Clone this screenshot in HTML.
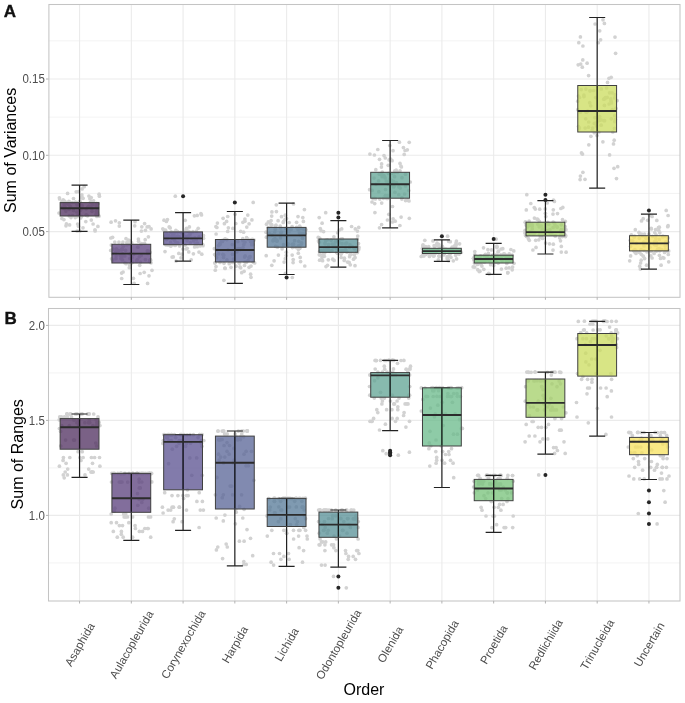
<!DOCTYPE html>
<html><head><meta charset="utf-8"><style>html,body{margin:0;padding:0;background:#fff;width:685px;height:703px;overflow:hidden}svg{display:block;will-change:transform}</style></head><body><svg width="685" height="703" viewBox="0 0 685 703" font-family="&quot;Liberation Sans&quot;, sans-serif"><line x1="48.5" x2="680.0" y1="269.75" y2="269.75" stroke="#f0f0f0" stroke-width="0.8"/><line x1="48.5" x2="680.0" y1="193.45" y2="193.45" stroke="#f0f0f0" stroke-width="0.8"/><line x1="48.5" x2="680.0" y1="117.15" y2="117.15" stroke="#f0f0f0" stroke-width="0.8"/><line x1="48.5" x2="680.0" y1="40.85" y2="40.85" stroke="#f0f0f0" stroke-width="0.8"/><line x1="48.5" x2="680.0" y1="231.60" y2="231.60" stroke="#ebebeb" stroke-width="1.1"/><line x1="48.5" x2="680.0" y1="155.30" y2="155.30" stroke="#ebebeb" stroke-width="1.1"/><line x1="48.5" x2="680.0" y1="79.00" y2="79.00" stroke="#ebebeb" stroke-width="1.1"/><line x1="79.56" x2="79.56" y1="4.5" y2="297.3" stroke="#ebebeb" stroke-width="1.1"/><line x1="131.32" x2="131.32" y1="4.5" y2="297.3" stroke="#ebebeb" stroke-width="1.1"/><line x1="183.08" x2="183.08" y1="4.5" y2="297.3" stroke="#ebebeb" stroke-width="1.1"/><line x1="234.84" x2="234.84" y1="4.5" y2="297.3" stroke="#ebebeb" stroke-width="1.1"/><line x1="286.61" x2="286.61" y1="4.5" y2="297.3" stroke="#ebebeb" stroke-width="1.1"/><line x1="338.37" x2="338.37" y1="4.5" y2="297.3" stroke="#ebebeb" stroke-width="1.1"/><line x1="390.13" x2="390.13" y1="4.5" y2="297.3" stroke="#ebebeb" stroke-width="1.1"/><line x1="441.89" x2="441.89" y1="4.5" y2="297.3" stroke="#ebebeb" stroke-width="1.1"/><line x1="493.66" x2="493.66" y1="4.5" y2="297.3" stroke="#ebebeb" stroke-width="1.1"/><line x1="545.42" x2="545.42" y1="4.5" y2="297.3" stroke="#ebebeb" stroke-width="1.1"/><line x1="597.18" x2="597.18" y1="4.5" y2="297.3" stroke="#ebebeb" stroke-width="1.1"/><line x1="648.94" x2="648.94" y1="4.5" y2="297.3" stroke="#ebebeb" stroke-width="1.1"/><g fill="#d2d2d2"><circle cx="62.4" cy="207.4" r="1.85"/><circle cx="86.2" cy="208.8" r="1.85"/><circle cx="96.5" cy="211.1" r="1.85"/><circle cx="91.2" cy="197.5" r="1.85"/><circle cx="89.9" cy="198.7" r="1.85"/><circle cx="78.6" cy="202.4" r="1.85"/><circle cx="66.2" cy="203.6" r="1.85"/><circle cx="91.5" cy="201.4" r="1.85"/><circle cx="72.6" cy="215.6" r="1.85"/><circle cx="92.0" cy="211.3" r="1.85"/><circle cx="99.1" cy="216.1" r="1.85"/><circle cx="75.2" cy="217.6" r="1.85"/><circle cx="75.5" cy="202.2" r="1.85"/><circle cx="98.1" cy="203.6" r="1.85"/><circle cx="88.9" cy="196.0" r="1.85"/><circle cx="65.9" cy="211.1" r="1.85"/><circle cx="64.1" cy="208.7" r="1.85"/><circle cx="65.1" cy="201.6" r="1.85"/><circle cx="96.3" cy="211.5" r="1.85"/><circle cx="92.2" cy="204.9" r="1.85"/><circle cx="64.9" cy="206.5" r="1.85"/><circle cx="93.1" cy="224.0" r="1.85"/><circle cx="99.4" cy="196.2" r="1.85"/><circle cx="86.1" cy="215.0" r="1.85"/><circle cx="73.4" cy="210.4" r="1.85"/><circle cx="81.6" cy="216.3" r="1.85"/><circle cx="64.3" cy="204.0" r="1.85"/><circle cx="59.4" cy="197.8" r="1.85"/><circle cx="99.1" cy="194.2" r="1.85"/><circle cx="85.8" cy="221.6" r="1.85"/><circle cx="80.7" cy="217.9" r="1.85"/><circle cx="97.5" cy="212.8" r="1.85"/><circle cx="76.8" cy="211.8" r="1.85"/><circle cx="95.0" cy="229.8" r="1.85"/><circle cx="93.1" cy="204.5" r="1.85"/><circle cx="67.6" cy="193.4" r="1.85"/><circle cx="69.3" cy="215.9" r="1.85"/><circle cx="71.0" cy="217.6" r="1.85"/><circle cx="68.8" cy="204.5" r="1.85"/><circle cx="83.1" cy="198.3" r="1.85"/><circle cx="69.6" cy="202.2" r="1.85"/><circle cx="76.2" cy="191.8" r="1.85"/><circle cx="64.3" cy="201.2" r="1.85"/><circle cx="96.5" cy="203.3" r="1.85"/><circle cx="73.5" cy="198.5" r="1.85"/><circle cx="77.8" cy="215.1" r="1.85"/><circle cx="83.0" cy="227.8" r="1.85"/><circle cx="96.3" cy="205.9" r="1.85"/><circle cx="76.3" cy="203.2" r="1.85"/><circle cx="96.9" cy="216.5" r="1.85"/><circle cx="79.6" cy="201.3" r="1.85"/><circle cx="80.9" cy="197.9" r="1.85"/><circle cx="80.5" cy="210.2" r="1.85"/><circle cx="59.6" cy="199.0" r="1.85"/><circle cx="77.1" cy="205.0" r="1.85"/><circle cx="66.4" cy="223.9" r="1.85"/><circle cx="59.0" cy="213.0" r="1.85"/><circle cx="91.9" cy="208.6" r="1.85"/><circle cx="66.0" cy="225.8" r="1.85"/><circle cx="78.5" cy="226.2" r="1.85"/><circle cx="88.9" cy="206.0" r="1.85"/><circle cx="81.9" cy="194.9" r="1.85"/><circle cx="72.4" cy="202.5" r="1.85"/><circle cx="80.3" cy="201.9" r="1.85"/><circle cx="81.9" cy="207.9" r="1.85"/><circle cx="91.3" cy="202.0" r="1.85"/><circle cx="63.2" cy="199.8" r="1.85"/><circle cx="82.1" cy="188.9" r="1.85"/><circle cx="69.1" cy="209.4" r="1.85"/><circle cx="70.3" cy="206.3" r="1.85"/><circle cx="90.8" cy="207.5" r="1.85"/><circle cx="79.9" cy="231.1" r="1.85"/><circle cx="82.1" cy="205.5" r="1.85"/><circle cx="90.3" cy="202.3" r="1.85"/><circle cx="96.6" cy="206.7" r="1.85"/><circle cx="77.2" cy="216.6" r="1.85"/><circle cx="84.2" cy="186.7" r="1.85"/><circle cx="79.8" cy="209.3" r="1.85"/><circle cx="80.1" cy="208.4" r="1.85"/><circle cx="87.5" cy="215.8" r="1.85"/><circle cx="77.6" cy="224.0" r="1.85"/><circle cx="80.9" cy="206.1" r="1.85"/><circle cx="78.6" cy="191.7" r="1.85"/><circle cx="97.8" cy="214.3" r="1.85"/><circle cx="87.8" cy="207.0" r="1.85"/><circle cx="95.1" cy="230.9" r="1.85"/><circle cx="97.9" cy="226.4" r="1.85"/><circle cx="69.6" cy="224.9" r="1.85"/><circle cx="82.0" cy="197.3" r="1.85"/><circle cx="97.9" cy="208.0" r="1.85"/><circle cx="93.6" cy="200.8" r="1.85"/><circle cx="64.5" cy="204.3" r="1.85"/><circle cx="63.9" cy="219.6" r="1.85"/><circle cx="77.2" cy="231.0" r="1.85"/><circle cx="61.9" cy="218.5" r="1.85"/><circle cx="68.8" cy="201.4" r="1.85"/><circle cx="61.9" cy="201.6" r="1.85"/><circle cx="86.6" cy="215.2" r="1.85"/><circle cx="91.3" cy="220.1" r="1.85"/><circle cx="96.0" cy="214.4" r="1.85"/><circle cx="141.4" cy="231.1" r="1.85"/><circle cx="123.2" cy="254.9" r="1.85"/><circle cx="134.1" cy="283.3" r="1.85"/><circle cx="111.1" cy="222.2" r="1.85"/><circle cx="113.1" cy="249.1" r="1.85"/><circle cx="121.7" cy="278.5" r="1.85"/><circle cx="138.4" cy="239.0" r="1.85"/><circle cx="139.3" cy="256.8" r="1.85"/><circle cx="138.6" cy="241.2" r="1.85"/><circle cx="122.7" cy="253.8" r="1.85"/><circle cx="132.0" cy="257.7" r="1.85"/><circle cx="129.9" cy="241.0" r="1.85"/><circle cx="129.9" cy="258.4" r="1.85"/><circle cx="115.5" cy="220.8" r="1.85"/><circle cx="147.6" cy="283.4" r="1.85"/><circle cx="118.9" cy="242.1" r="1.85"/><circle cx="151.1" cy="228.9" r="1.85"/><circle cx="149.4" cy="252.4" r="1.85"/><circle cx="111.3" cy="245.1" r="1.85"/><circle cx="129.6" cy="264.9" r="1.85"/><circle cx="144.6" cy="223.6" r="1.85"/><circle cx="150.7" cy="260.2" r="1.85"/><circle cx="129.2" cy="244.2" r="1.85"/><circle cx="121.7" cy="257.6" r="1.85"/><circle cx="119.3" cy="222.8" r="1.85"/><circle cx="149.8" cy="261.1" r="1.85"/><circle cx="119.3" cy="226.1" r="1.85"/><circle cx="134.7" cy="225.8" r="1.85"/><circle cx="116.5" cy="250.4" r="1.85"/><circle cx="132.3" cy="262.3" r="1.85"/><circle cx="150.1" cy="252.4" r="1.85"/><circle cx="116.1" cy="255.8" r="1.85"/><circle cx="144.6" cy="243.4" r="1.85"/><circle cx="131.7" cy="242.9" r="1.85"/><circle cx="147.3" cy="250.8" r="1.85"/><circle cx="139.7" cy="265.3" r="1.85"/><circle cx="120.2" cy="255.3" r="1.85"/><circle cx="147.8" cy="253.4" r="1.85"/><circle cx="130.7" cy="253.5" r="1.85"/><circle cx="111.6" cy="258.8" r="1.85"/><circle cx="110.8" cy="238.0" r="1.85"/><circle cx="131.0" cy="263.4" r="1.85"/><circle cx="129.3" cy="267.7" r="1.85"/><circle cx="123.1" cy="245.8" r="1.85"/><circle cx="116.4" cy="248.9" r="1.85"/><circle cx="124.9" cy="262.8" r="1.85"/><circle cx="123.7" cy="245.9" r="1.85"/><circle cx="145.4" cy="259.6" r="1.85"/><circle cx="110.7" cy="250.4" r="1.85"/><circle cx="141.7" cy="243.7" r="1.85"/><circle cx="145.4" cy="230.3" r="1.85"/><circle cx="115.6" cy="252.1" r="1.85"/><circle cx="149.0" cy="226.6" r="1.85"/><circle cx="140.1" cy="273.5" r="1.85"/><circle cx="147.9" cy="251.3" r="1.85"/><circle cx="122.6" cy="249.3" r="1.85"/><circle cx="126.0" cy="238.7" r="1.85"/><circle cx="126.9" cy="244.7" r="1.85"/><circle cx="152.0" cy="270.3" r="1.85"/><circle cx="135.0" cy="221.7" r="1.85"/><circle cx="125.6" cy="250.3" r="1.85"/><circle cx="128.3" cy="240.0" r="1.85"/><circle cx="122.0" cy="248.9" r="1.85"/><circle cx="112.6" cy="237.3" r="1.85"/><circle cx="114.8" cy="242.1" r="1.85"/><circle cx="145.2" cy="239.7" r="1.85"/><circle cx="122.4" cy="244.3" r="1.85"/><circle cx="149.4" cy="251.4" r="1.85"/><circle cx="120.9" cy="258.6" r="1.85"/><circle cx="121.6" cy="273.1" r="1.85"/><circle cx="131.8" cy="261.9" r="1.85"/><circle cx="118.5" cy="250.6" r="1.85"/><circle cx="126.1" cy="263.7" r="1.85"/><circle cx="150.2" cy="259.6" r="1.85"/><circle cx="147.2" cy="226.9" r="1.85"/><circle cx="144.2" cy="272.3" r="1.85"/><circle cx="136.7" cy="261.2" r="1.85"/><circle cx="148.4" cy="236.8" r="1.85"/><circle cx="149.6" cy="261.4" r="1.85"/><circle cx="133.4" cy="278.3" r="1.85"/><circle cx="140.4" cy="262.0" r="1.85"/><circle cx="112.7" cy="260.1" r="1.85"/><circle cx="140.9" cy="244.3" r="1.85"/><circle cx="129.3" cy="240.5" r="1.85"/><circle cx="141.8" cy="226.8" r="1.85"/><circle cx="137.3" cy="259.5" r="1.85"/><circle cx="122.5" cy="260.0" r="1.85"/><circle cx="112.6" cy="253.6" r="1.85"/><circle cx="149.0" cy="275.8" r="1.85"/><circle cx="115.9" cy="258.6" r="1.85"/><circle cx="130.2" cy="254.2" r="1.85"/><circle cx="124.8" cy="256.0" r="1.85"/><circle cx="122.9" cy="242.1" r="1.85"/><circle cx="141.2" cy="255.5" r="1.85"/><circle cx="151.0" cy="262.8" r="1.85"/><circle cx="121.4" cy="250.0" r="1.85"/><circle cx="137.8" cy="247.2" r="1.85"/><circle cx="123.1" cy="272.0" r="1.85"/><circle cx="133.7" cy="254.3" r="1.85"/><circle cx="126.9" cy="242.3" r="1.85"/><circle cx="196.4" cy="231.2" r="1.85"/><circle cx="194.4" cy="215.8" r="1.85"/><circle cx="187.5" cy="237.0" r="1.85"/><circle cx="176.0" cy="261.0" r="1.85"/><circle cx="175.6" cy="237.5" r="1.85"/><circle cx="177.4" cy="231.6" r="1.85"/><circle cx="194.8" cy="237.8" r="1.85"/><circle cx="165.6" cy="230.2" r="1.85"/><circle cx="170.5" cy="244.0" r="1.85"/><circle cx="193.6" cy="241.0" r="1.85"/><circle cx="172.6" cy="235.0" r="1.85"/><circle cx="165.1" cy="236.2" r="1.85"/><circle cx="163.8" cy="230.0" r="1.85"/><circle cx="185.3" cy="245.1" r="1.85"/><circle cx="175.9" cy="242.4" r="1.85"/><circle cx="203.0" cy="245.7" r="1.85"/><circle cx="199.0" cy="236.8" r="1.85"/><circle cx="203.3" cy="235.5" r="1.85"/><circle cx="173.3" cy="256.9" r="1.85"/><circle cx="165.9" cy="244.7" r="1.85"/><circle cx="166.4" cy="221.5" r="1.85"/><circle cx="183.0" cy="249.0" r="1.85"/><circle cx="191.8" cy="238.4" r="1.85"/><circle cx="180.9" cy="232.4" r="1.85"/><circle cx="172.1" cy="257.1" r="1.85"/><circle cx="179.6" cy="246.0" r="1.85"/><circle cx="188.1" cy="231.2" r="1.85"/><circle cx="190.3" cy="242.7" r="1.85"/><circle cx="193.4" cy="253.8" r="1.85"/><circle cx="197.5" cy="243.2" r="1.85"/><circle cx="189.9" cy="234.8" r="1.85"/><circle cx="167.4" cy="219.6" r="1.85"/><circle cx="197.2" cy="215.4" r="1.85"/><circle cx="174.5" cy="240.3" r="1.85"/><circle cx="185.9" cy="230.3" r="1.85"/><circle cx="177.8" cy="242.8" r="1.85"/><circle cx="192.9" cy="231.7" r="1.85"/><circle cx="170.6" cy="242.1" r="1.85"/><circle cx="172.6" cy="236.9" r="1.85"/><circle cx="172.5" cy="238.5" r="1.85"/><circle cx="168.7" cy="235.4" r="1.85"/><circle cx="199.0" cy="252.1" r="1.85"/><circle cx="186.3" cy="249.0" r="1.85"/><circle cx="175.9" cy="230.3" r="1.85"/><circle cx="178.8" cy="253.4" r="1.85"/><circle cx="203.5" cy="238.3" r="1.85"/><circle cx="183.4" cy="234.0" r="1.85"/><circle cx="172.0" cy="236.7" r="1.85"/><circle cx="195.9" cy="244.2" r="1.85"/><circle cx="189.4" cy="231.9" r="1.85"/><circle cx="203.4" cy="235.7" r="1.85"/><circle cx="166.6" cy="239.6" r="1.85"/><circle cx="182.0" cy="254.2" r="1.85"/><circle cx="196.3" cy="239.7" r="1.85"/><circle cx="197.2" cy="246.7" r="1.85"/><circle cx="200.2" cy="245.9" r="1.85"/><circle cx="164.0" cy="220.2" r="1.85"/><circle cx="174.5" cy="232.2" r="1.85"/><circle cx="167.3" cy="237.2" r="1.85"/><circle cx="170.2" cy="227.9" r="1.85"/><circle cx="202.7" cy="244.4" r="1.85"/><circle cx="186.5" cy="228.3" r="1.85"/><circle cx="200.9" cy="213.6" r="1.85"/><circle cx="177.8" cy="231.8" r="1.85"/><circle cx="198.2" cy="228.3" r="1.85"/><circle cx="181.0" cy="257.8" r="1.85"/><circle cx="173.1" cy="244.7" r="1.85"/><circle cx="194.6" cy="246.9" r="1.85"/><circle cx="201.5" cy="214.9" r="1.85"/><circle cx="166.8" cy="238.6" r="1.85"/><circle cx="187.1" cy="240.8" r="1.85"/><circle cx="188.0" cy="236.2" r="1.85"/><circle cx="171.4" cy="231.9" r="1.85"/><circle cx="177.6" cy="236.1" r="1.85"/><circle cx="168.2" cy="245.1" r="1.85"/><circle cx="170.8" cy="245.7" r="1.85"/><circle cx="172.9" cy="233.1" r="1.85"/><circle cx="187.2" cy="248.3" r="1.85"/><circle cx="189.4" cy="226.9" r="1.85"/><circle cx="170.8" cy="232.4" r="1.85"/><circle cx="162.8" cy="228.8" r="1.85"/><circle cx="175.9" cy="244.7" r="1.85"/><circle cx="190.5" cy="233.1" r="1.85"/><circle cx="170.0" cy="244.8" r="1.85"/><circle cx="175.3" cy="231.8" r="1.85"/><circle cx="170.8" cy="246.1" r="1.85"/><circle cx="195.3" cy="244.1" r="1.85"/><circle cx="185.1" cy="236.6" r="1.85"/><circle cx="165.0" cy="251.6" r="1.85"/><circle cx="166.6" cy="233.7" r="1.85"/><circle cx="178.7" cy="236.6" r="1.85"/><circle cx="185.2" cy="220.3" r="1.85"/><circle cx="188.8" cy="251.9" r="1.85"/><circle cx="166.2" cy="244.7" r="1.85"/><circle cx="169.2" cy="226.9" r="1.85"/><circle cx="191.2" cy="259.8" r="1.85"/><circle cx="179.3" cy="236.8" r="1.85"/><circle cx="174.1" cy="235.2" r="1.85"/><circle cx="175.1" cy="245.5" r="1.85"/><circle cx="201.8" cy="254.2" r="1.85"/><circle cx="175.3" cy="196.2" r="1.85"/><circle cx="232.5" cy="254.3" r="1.85"/><circle cx="252.9" cy="240.9" r="1.85"/><circle cx="244.5" cy="265.5" r="1.85"/><circle cx="224.4" cy="223.7" r="1.85"/><circle cx="251.6" cy="239.5" r="1.85"/><circle cx="216.0" cy="266.6" r="1.85"/><circle cx="236.1" cy="266.2" r="1.85"/><circle cx="231.0" cy="267.3" r="1.85"/><circle cx="224.0" cy="239.5" r="1.85"/><circle cx="216.6" cy="257.7" r="1.85"/><circle cx="246.4" cy="262.3" r="1.85"/><circle cx="214.7" cy="254.5" r="1.85"/><circle cx="237.0" cy="251.8" r="1.85"/><circle cx="253.1" cy="244.5" r="1.85"/><circle cx="220.0" cy="262.4" r="1.85"/><circle cx="222.4" cy="241.5" r="1.85"/><circle cx="239.3" cy="263.2" r="1.85"/><circle cx="235.1" cy="214.3" r="1.85"/><circle cx="240.7" cy="267.8" r="1.85"/><circle cx="247.8" cy="215.1" r="1.85"/><circle cx="221.4" cy="240.5" r="1.85"/><circle cx="227.0" cy="259.9" r="1.85"/><circle cx="226.6" cy="221.4" r="1.85"/><circle cx="216.1" cy="234.0" r="1.85"/><circle cx="251.0" cy="277.3" r="1.85"/><circle cx="246.6" cy="237.7" r="1.85"/><circle cx="243.8" cy="244.6" r="1.85"/><circle cx="214.4" cy="248.7" r="1.85"/><circle cx="249.1" cy="223.8" r="1.85"/><circle cx="245.0" cy="262.1" r="1.85"/><circle cx="233.4" cy="259.1" r="1.85"/><circle cx="244.9" cy="219.1" r="1.85"/><circle cx="232.9" cy="228.4" r="1.85"/><circle cx="223.5" cy="257.5" r="1.85"/><circle cx="218.5" cy="245.6" r="1.85"/><circle cx="223.8" cy="255.1" r="1.85"/><circle cx="215.7" cy="255.4" r="1.85"/><circle cx="228.0" cy="249.8" r="1.85"/><circle cx="245.2" cy="255.9" r="1.85"/><circle cx="242.9" cy="222.3" r="1.85"/><circle cx="249.1" cy="267.3" r="1.85"/><circle cx="243.6" cy="232.2" r="1.85"/><circle cx="225.2" cy="238.8" r="1.85"/><circle cx="237.1" cy="249.0" r="1.85"/><circle cx="232.2" cy="244.6" r="1.85"/><circle cx="246.8" cy="227.1" r="1.85"/><circle cx="235.8" cy="223.5" r="1.85"/><circle cx="225.1" cy="268.4" r="1.85"/><circle cx="240.7" cy="231.3" r="1.85"/><circle cx="254.1" cy="240.0" r="1.85"/><circle cx="223.1" cy="218.3" r="1.85"/><circle cx="250.6" cy="274.2" r="1.85"/><circle cx="214.8" cy="263.1" r="1.85"/><circle cx="224.9" cy="268.0" r="1.85"/><circle cx="223.9" cy="280.3" r="1.85"/><circle cx="244.9" cy="221.2" r="1.85"/><circle cx="253.3" cy="262.2" r="1.85"/><circle cx="245.0" cy="242.1" r="1.85"/><circle cx="227.7" cy="216.5" r="1.85"/><circle cx="250.6" cy="241.4" r="1.85"/><circle cx="227.7" cy="231.4" r="1.85"/><circle cx="224.0" cy="263.3" r="1.85"/><circle cx="251.7" cy="244.7" r="1.85"/><circle cx="240.3" cy="249.6" r="1.85"/><circle cx="242.8" cy="238.5" r="1.85"/><circle cx="241.7" cy="272.7" r="1.85"/><circle cx="254.7" cy="262.9" r="1.85"/><circle cx="233.6" cy="262.4" r="1.85"/><circle cx="248.9" cy="257.6" r="1.85"/><circle cx="243.0" cy="240.8" r="1.85"/><circle cx="249.6" cy="257.0" r="1.85"/><circle cx="232.2" cy="262.4" r="1.85"/><circle cx="244.1" cy="271.3" r="1.85"/><circle cx="237.8" cy="241.6" r="1.85"/><circle cx="226.9" cy="239.6" r="1.85"/><circle cx="222.9" cy="254.3" r="1.85"/><circle cx="239.9" cy="266.9" r="1.85"/><circle cx="217.4" cy="223.1" r="1.85"/><circle cx="251.9" cy="219.9" r="1.85"/><circle cx="220.1" cy="243.3" r="1.85"/><circle cx="215.3" cy="270.2" r="1.85"/><circle cx="218.6" cy="253.8" r="1.85"/><circle cx="252.6" cy="239.4" r="1.85"/><circle cx="228.4" cy="227.8" r="1.85"/><circle cx="220.0" cy="244.6" r="1.85"/><circle cx="215.3" cy="262.6" r="1.85"/><circle cx="215.9" cy="226.5" r="1.85"/><circle cx="242.8" cy="239.5" r="1.85"/><circle cx="240.4" cy="248.9" r="1.85"/><circle cx="243.0" cy="247.6" r="1.85"/><circle cx="244.6" cy="257.1" r="1.85"/><circle cx="216.9" cy="227.5" r="1.85"/><circle cx="238.6" cy="248.6" r="1.85"/><circle cx="229.2" cy="263.7" r="1.85"/><circle cx="248.0" cy="239.1" r="1.85"/><circle cx="248.1" cy="260.5" r="1.85"/><circle cx="251.0" cy="266.1" r="1.85"/><circle cx="216.9" cy="249.9" r="1.85"/><circle cx="250.1" cy="256.7" r="1.85"/><circle cx="252.0" cy="243.2" r="1.85"/><circle cx="253.2" cy="202.4" r="1.85"/><circle cx="275.2" cy="226.0" r="1.85"/><circle cx="296.6" cy="227.3" r="1.85"/><circle cx="304.8" cy="266.0" r="1.85"/><circle cx="287.7" cy="245.1" r="1.85"/><circle cx="275.0" cy="238.7" r="1.85"/><circle cx="299.1" cy="227.0" r="1.85"/><circle cx="282.1" cy="248.8" r="1.85"/><circle cx="274.7" cy="232.0" r="1.85"/><circle cx="271.3" cy="225.3" r="1.85"/><circle cx="298.1" cy="229.6" r="1.85"/><circle cx="299.4" cy="232.8" r="1.85"/><circle cx="292.2" cy="255.1" r="1.85"/><circle cx="285.3" cy="258.7" r="1.85"/><circle cx="289.2" cy="222.5" r="1.85"/><circle cx="275.3" cy="229.2" r="1.85"/><circle cx="305.8" cy="229.7" r="1.85"/><circle cx="280.5" cy="237.9" r="1.85"/><circle cx="292.4" cy="247.6" r="1.85"/><circle cx="299.8" cy="248.3" r="1.85"/><circle cx="299.7" cy="226.0" r="1.85"/><circle cx="285.3" cy="273.4" r="1.85"/><circle cx="278.1" cy="220.7" r="1.85"/><circle cx="288.6" cy="229.0" r="1.85"/><circle cx="271.1" cy="220.6" r="1.85"/><circle cx="300.4" cy="228.7" r="1.85"/><circle cx="280.6" cy="227.8" r="1.85"/><circle cx="301.1" cy="233.6" r="1.85"/><circle cx="277.0" cy="241.2" r="1.85"/><circle cx="281.5" cy="216.7" r="1.85"/><circle cx="276.4" cy="211.6" r="1.85"/><circle cx="283.5" cy="244.7" r="1.85"/><circle cx="273.6" cy="239.5" r="1.85"/><circle cx="266.0" cy="232.2" r="1.85"/><circle cx="295.8" cy="247.5" r="1.85"/><circle cx="277.5" cy="247.2" r="1.85"/><circle cx="276.0" cy="225.2" r="1.85"/><circle cx="278.4" cy="255.1" r="1.85"/><circle cx="285.8" cy="228.3" r="1.85"/><circle cx="283.6" cy="221.4" r="1.85"/><circle cx="292.3" cy="244.3" r="1.85"/><circle cx="293.2" cy="259.6" r="1.85"/><circle cx="280.9" cy="232.7" r="1.85"/><circle cx="304.4" cy="209.6" r="1.85"/><circle cx="301.3" cy="244.1" r="1.85"/><circle cx="268.3" cy="221.9" r="1.85"/><circle cx="300.2" cy="257.4" r="1.85"/><circle cx="303.4" cy="221.4" r="1.85"/><circle cx="298.4" cy="249.3" r="1.85"/><circle cx="271.7" cy="224.6" r="1.85"/><circle cx="300.3" cy="245.3" r="1.85"/><circle cx="292.1" cy="226.5" r="1.85"/><circle cx="266.5" cy="224.2" r="1.85"/><circle cx="266.4" cy="237.2" r="1.85"/><circle cx="305.3" cy="233.8" r="1.85"/><circle cx="293.1" cy="262.6" r="1.85"/><circle cx="276.3" cy="204.8" r="1.85"/><circle cx="270.1" cy="223.1" r="1.85"/><circle cx="271.8" cy="265.3" r="1.85"/><circle cx="275.6" cy="240.5" r="1.85"/><circle cx="298.0" cy="216.6" r="1.85"/><circle cx="280.2" cy="226.0" r="1.85"/><circle cx="272.2" cy="235.0" r="1.85"/><circle cx="303.3" cy="229.1" r="1.85"/><circle cx="298.7" cy="241.3" r="1.85"/><circle cx="272.9" cy="240.8" r="1.85"/><circle cx="302.8" cy="217.6" r="1.85"/><circle cx="291.1" cy="229.4" r="1.85"/><circle cx="298.3" cy="253.2" r="1.85"/><circle cx="293.6" cy="244.2" r="1.85"/><circle cx="302.9" cy="233.5" r="1.85"/><circle cx="298.5" cy="245.8" r="1.85"/><circle cx="300.6" cy="261.6" r="1.85"/><circle cx="274.1" cy="260.8" r="1.85"/><circle cx="294.6" cy="240.7" r="1.85"/><circle cx="287.9" cy="230.3" r="1.85"/><circle cx="296.6" cy="222.3" r="1.85"/><circle cx="284.1" cy="262.1" r="1.85"/><circle cx="302.5" cy="238.3" r="1.85"/><circle cx="288.9" cy="231.7" r="1.85"/><circle cx="276.9" cy="240.2" r="1.85"/><circle cx="275.6" cy="246.4" r="1.85"/><circle cx="271.7" cy="216.1" r="1.85"/><circle cx="286.3" cy="252.2" r="1.85"/><circle cx="268.3" cy="227.6" r="1.85"/><circle cx="285.2" cy="219.3" r="1.85"/><circle cx="271.9" cy="211.9" r="1.85"/><circle cx="286.2" cy="255.6" r="1.85"/><circle cx="286.5" cy="218.5" r="1.85"/><circle cx="288.2" cy="243.8" r="1.85"/><circle cx="301.6" cy="242.9" r="1.85"/><circle cx="266.2" cy="255.7" r="1.85"/><circle cx="300.7" cy="227.8" r="1.85"/><circle cx="285.3" cy="215.2" r="1.85"/><circle cx="289.2" cy="229.3" r="1.85"/><circle cx="293.5" cy="203.9" r="1.85"/><circle cx="300.7" cy="234.9" r="1.85"/><circle cx="281.4" cy="232.1" r="1.85"/><circle cx="283.2" cy="222.4" r="1.85"/><circle cx="305.7" cy="229.8" r="1.85"/><circle cx="269.0" cy="233.2" r="1.85"/><circle cx="292.3" cy="277.5" r="1.85"/><circle cx="336.7" cy="247.2" r="1.85"/><circle cx="321.3" cy="250.6" r="1.85"/><circle cx="351.1" cy="254.3" r="1.85"/><circle cx="349.6" cy="256.7" r="1.85"/><circle cx="327.3" cy="239.8" r="1.85"/><circle cx="341.7" cy="228.9" r="1.85"/><circle cx="354.8" cy="248.9" r="1.85"/><circle cx="354.3" cy="254.7" r="1.85"/><circle cx="339.3" cy="242.8" r="1.85"/><circle cx="337.4" cy="253.2" r="1.85"/><circle cx="342.1" cy="243.7" r="1.85"/><circle cx="325.5" cy="251.4" r="1.85"/><circle cx="325.6" cy="240.4" r="1.85"/><circle cx="325.1" cy="243.0" r="1.85"/><circle cx="346.7" cy="243.0" r="1.85"/><circle cx="332.7" cy="259.2" r="1.85"/><circle cx="341.0" cy="254.3" r="1.85"/><circle cx="334.3" cy="244.7" r="1.85"/><circle cx="339.1" cy="250.4" r="1.85"/><circle cx="323.8" cy="252.3" r="1.85"/><circle cx="319.5" cy="251.7" r="1.85"/><circle cx="359.0" cy="247.4" r="1.85"/><circle cx="333.2" cy="247.0" r="1.85"/><circle cx="322.1" cy="223.2" r="1.85"/><circle cx="343.9" cy="250.5" r="1.85"/><circle cx="350.3" cy="264.8" r="1.85"/><circle cx="324.1" cy="250.3" r="1.85"/><circle cx="342.4" cy="250.7" r="1.85"/><circle cx="331.9" cy="250.6" r="1.85"/><circle cx="339.2" cy="230.2" r="1.85"/><circle cx="318.5" cy="240.9" r="1.85"/><circle cx="319.1" cy="238.2" r="1.85"/><circle cx="358.7" cy="227.4" r="1.85"/><circle cx="353.5" cy="259.2" r="1.85"/><circle cx="337.8" cy="240.4" r="1.85"/><circle cx="341.2" cy="257.5" r="1.85"/><circle cx="328.5" cy="244.7" r="1.85"/><circle cx="349.9" cy="244.5" r="1.85"/><circle cx="335.3" cy="241.9" r="1.85"/><circle cx="356.9" cy="252.4" r="1.85"/><circle cx="349.4" cy="247.3" r="1.85"/><circle cx="351.6" cy="226.5" r="1.85"/><circle cx="357.6" cy="251.9" r="1.85"/><circle cx="328.2" cy="247.0" r="1.85"/><circle cx="319.2" cy="242.3" r="1.85"/><circle cx="326.0" cy="266.6" r="1.85"/><circle cx="325.1" cy="243.8" r="1.85"/><circle cx="321.1" cy="230.7" r="1.85"/><circle cx="319.8" cy="238.4" r="1.85"/><circle cx="340.7" cy="239.0" r="1.85"/><circle cx="353.7" cy="247.7" r="1.85"/><circle cx="336.6" cy="252.5" r="1.85"/><circle cx="356.9" cy="252.7" r="1.85"/><circle cx="355.3" cy="228.9" r="1.85"/><circle cx="320.3" cy="228.5" r="1.85"/><circle cx="342.4" cy="238.9" r="1.85"/><circle cx="334.1" cy="260.4" r="1.85"/><circle cx="322.6" cy="260.7" r="1.85"/><circle cx="357.4" cy="231.1" r="1.85"/><circle cx="328.3" cy="249.5" r="1.85"/><circle cx="341.0" cy="253.6" r="1.85"/><circle cx="344.2" cy="260.4" r="1.85"/><circle cx="357.3" cy="239.0" r="1.85"/><circle cx="345.4" cy="251.4" r="1.85"/><circle cx="333.9" cy="236.8" r="1.85"/><circle cx="336.2" cy="248.0" r="1.85"/><circle cx="324.3" cy="256.3" r="1.85"/><circle cx="357.7" cy="236.0" r="1.85"/><circle cx="358.7" cy="249.4" r="1.85"/><circle cx="326.8" cy="247.9" r="1.85"/><circle cx="319.3" cy="254.7" r="1.85"/><circle cx="328.3" cy="250.4" r="1.85"/><circle cx="332.2" cy="244.0" r="1.85"/><circle cx="355.0" cy="265.7" r="1.85"/><circle cx="355.1" cy="257.6" r="1.85"/><circle cx="352.3" cy="246.6" r="1.85"/><circle cx="319.6" cy="260.2" r="1.85"/><circle cx="350.2" cy="254.3" r="1.85"/><circle cx="347.0" cy="252.2" r="1.85"/><circle cx="344.4" cy="258.2" r="1.85"/><circle cx="358.5" cy="243.6" r="1.85"/><circle cx="320.0" cy="254.9" r="1.85"/><circle cx="323.7" cy="250.2" r="1.85"/><circle cx="348.9" cy="262.4" r="1.85"/><circle cx="356.6" cy="247.1" r="1.85"/><circle cx="345.7" cy="243.7" r="1.85"/><circle cx="330.0" cy="251.3" r="1.85"/><circle cx="342.2" cy="252.3" r="1.85"/><circle cx="349.0" cy="262.5" r="1.85"/><circle cx="322.0" cy="257.7" r="1.85"/><circle cx="331.1" cy="240.2" r="1.85"/><circle cx="328.3" cy="259.8" r="1.85"/><circle cx="322.8" cy="254.5" r="1.85"/><circle cx="337.6" cy="232.7" r="1.85"/><circle cx="324.6" cy="253.1" r="1.85"/><circle cx="327.5" cy="265.3" r="1.85"/><circle cx="323.6" cy="231.6" r="1.85"/><circle cx="345.7" cy="249.5" r="1.85"/><circle cx="318.2" cy="237.4" r="1.85"/><circle cx="347.4" cy="262.0" r="1.85"/><circle cx="325.7" cy="212.7" r="1.85"/><circle cx="319.2" cy="217.6" r="1.85"/><circle cx="407.7" cy="200.2" r="1.85"/><circle cx="395.2" cy="221.2" r="1.85"/><circle cx="379.8" cy="199.1" r="1.85"/><circle cx="391.0" cy="183.0" r="1.85"/><circle cx="387.4" cy="220.0" r="1.85"/><circle cx="408.8" cy="190.5" r="1.85"/><circle cx="381.3" cy="174.4" r="1.85"/><circle cx="382.1" cy="176.7" r="1.85"/><circle cx="396.2" cy="170.2" r="1.85"/><circle cx="374.4" cy="155.0" r="1.85"/><circle cx="394.0" cy="186.2" r="1.85"/><circle cx="409.0" cy="200.9" r="1.85"/><circle cx="390.7" cy="182.3" r="1.85"/><circle cx="380.5" cy="174.2" r="1.85"/><circle cx="388.7" cy="182.2" r="1.85"/><circle cx="391.5" cy="180.4" r="1.85"/><circle cx="375.6" cy="198.8" r="1.85"/><circle cx="374.6" cy="198.4" r="1.85"/><circle cx="374.9" cy="212.6" r="1.85"/><circle cx="381.6" cy="163.9" r="1.85"/><circle cx="386.3" cy="181.1" r="1.85"/><circle cx="381.4" cy="167.1" r="1.85"/><circle cx="379.5" cy="227.8" r="1.85"/><circle cx="373.1" cy="198.7" r="1.85"/><circle cx="392.0" cy="173.5" r="1.85"/><circle cx="404.2" cy="154.4" r="1.85"/><circle cx="394.7" cy="172.6" r="1.85"/><circle cx="393.0" cy="150.7" r="1.85"/><circle cx="396.4" cy="182.5" r="1.85"/><circle cx="377.8" cy="149.5" r="1.85"/><circle cx="398.8" cy="186.8" r="1.85"/><circle cx="388.5" cy="173.3" r="1.85"/><circle cx="392.1" cy="160.7" r="1.85"/><circle cx="394.8" cy="170.8" r="1.85"/><circle cx="388.8" cy="214.3" r="1.85"/><circle cx="382.3" cy="172.0" r="1.85"/><circle cx="379.5" cy="159.3" r="1.85"/><circle cx="378.6" cy="180.9" r="1.85"/><circle cx="390.6" cy="159.1" r="1.85"/><circle cx="385.3" cy="195.6" r="1.85"/><circle cx="393.7" cy="187.0" r="1.85"/><circle cx="369.9" cy="154.1" r="1.85"/><circle cx="384.0" cy="175.6" r="1.85"/><circle cx="405.1" cy="150.5" r="1.85"/><circle cx="379.3" cy="174.2" r="1.85"/><circle cx="392.5" cy="206.5" r="1.85"/><circle cx="389.8" cy="145.5" r="1.85"/><circle cx="381.2" cy="173.8" r="1.85"/><circle cx="410.3" cy="182.0" r="1.85"/><circle cx="381.7" cy="203.1" r="1.85"/><circle cx="401.4" cy="167.0" r="1.85"/><circle cx="376.0" cy="184.3" r="1.85"/><circle cx="372.2" cy="190.4" r="1.85"/><circle cx="405.5" cy="185.9" r="1.85"/><circle cx="387.6" cy="195.6" r="1.85"/><circle cx="372.0" cy="202.0" r="1.85"/><circle cx="385.5" cy="189.5" r="1.85"/><circle cx="387.6" cy="198.4" r="1.85"/><circle cx="399.9" cy="225.5" r="1.85"/><circle cx="374.0" cy="178.1" r="1.85"/><circle cx="378.8" cy="191.7" r="1.85"/><circle cx="409.2" cy="142.3" r="1.85"/><circle cx="400.0" cy="170.8" r="1.85"/><circle cx="375.8" cy="169.7" r="1.85"/><circle cx="383.4" cy="198.3" r="1.85"/><circle cx="384.0" cy="155.6" r="1.85"/><circle cx="397.4" cy="172.3" r="1.85"/><circle cx="394.9" cy="192.3" r="1.85"/><circle cx="404.6" cy="194.0" r="1.85"/><circle cx="403.4" cy="147.6" r="1.85"/><circle cx="390.9" cy="184.8" r="1.85"/><circle cx="400.0" cy="163.4" r="1.85"/><circle cx="400.2" cy="188.1" r="1.85"/><circle cx="400.9" cy="166.0" r="1.85"/><circle cx="389.1" cy="159.9" r="1.85"/><circle cx="401.9" cy="199.1" r="1.85"/><circle cx="398.8" cy="194.7" r="1.85"/><circle cx="407.3" cy="149.8" r="1.85"/><circle cx="374.7" cy="203.6" r="1.85"/><circle cx="405.5" cy="174.2" r="1.85"/><circle cx="369.6" cy="189.7" r="1.85"/><circle cx="401.1" cy="217.1" r="1.85"/><circle cx="393.7" cy="181.3" r="1.85"/><circle cx="390.0" cy="179.0" r="1.85"/><circle cx="409.3" cy="218.3" r="1.85"/><circle cx="393.1" cy="218.8" r="1.85"/><circle cx="386.7" cy="198.4" r="1.85"/><circle cx="401.9" cy="197.6" r="1.85"/><circle cx="405.6" cy="200.6" r="1.85"/><circle cx="394.6" cy="176.7" r="1.85"/><circle cx="385.1" cy="177.9" r="1.85"/><circle cx="388.2" cy="165.3" r="1.85"/><circle cx="388.4" cy="184.5" r="1.85"/><circle cx="399.4" cy="142.2" r="1.85"/><circle cx="381.6" cy="224.6" r="1.85"/><circle cx="385.6" cy="195.5" r="1.85"/><circle cx="392.4" cy="222.0" r="1.85"/><circle cx="385.3" cy="158.0" r="1.85"/><circle cx="382.8" cy="176.1" r="1.85"/><circle cx="402.0" cy="177.7" r="1.85"/><circle cx="434.1" cy="255.7" r="1.85"/><circle cx="437.3" cy="250.6" r="1.85"/><circle cx="424.8" cy="250.7" r="1.85"/><circle cx="428.5" cy="252.5" r="1.85"/><circle cx="456.4" cy="241.1" r="1.85"/><circle cx="434.5" cy="248.7" r="1.85"/><circle cx="448.6" cy="260.7" r="1.85"/><circle cx="425.7" cy="246.5" r="1.85"/><circle cx="444.5" cy="253.5" r="1.85"/><circle cx="436.2" cy="245.3" r="1.85"/><circle cx="441.9" cy="248.5" r="1.85"/><circle cx="433.5" cy="256.1" r="1.85"/><circle cx="423.9" cy="255.9" r="1.85"/><circle cx="434.1" cy="252.7" r="1.85"/><circle cx="430.6" cy="250.1" r="1.85"/><circle cx="426.4" cy="251.9" r="1.85"/><circle cx="450.9" cy="257.4" r="1.85"/><circle cx="432.9" cy="251.3" r="1.85"/><circle cx="437.9" cy="250.0" r="1.85"/><circle cx="458.8" cy="252.5" r="1.85"/><circle cx="453.3" cy="260.8" r="1.85"/><circle cx="457.7" cy="249.9" r="1.85"/><circle cx="456.9" cy="253.5" r="1.85"/><circle cx="426.7" cy="249.6" r="1.85"/><circle cx="432.6" cy="253.8" r="1.85"/><circle cx="422.4" cy="248.4" r="1.85"/><circle cx="449.3" cy="255.8" r="1.85"/><circle cx="448.7" cy="241.4" r="1.85"/><circle cx="435.7" cy="253.1" r="1.85"/><circle cx="438.3" cy="259.8" r="1.85"/><circle cx="448.5" cy="250.7" r="1.85"/><circle cx="450.1" cy="249.7" r="1.85"/><circle cx="431.5" cy="251.6" r="1.85"/><circle cx="456.3" cy="244.6" r="1.85"/><circle cx="435.8" cy="251.9" r="1.85"/><circle cx="447.2" cy="257.0" r="1.85"/><circle cx="428.7" cy="246.6" r="1.85"/><circle cx="426.0" cy="254.4" r="1.85"/><circle cx="459.0" cy="251.1" r="1.85"/><circle cx="451.6" cy="248.7" r="1.85"/><circle cx="450.7" cy="252.7" r="1.85"/><circle cx="422.9" cy="245.9" r="1.85"/><circle cx="422.8" cy="251.7" r="1.85"/><circle cx="427.9" cy="252.4" r="1.85"/><circle cx="429.4" cy="256.4" r="1.85"/><circle cx="433.7" cy="250.8" r="1.85"/><circle cx="437.0" cy="243.2" r="1.85"/><circle cx="422.8" cy="248.2" r="1.85"/><circle cx="434.1" cy="245.7" r="1.85"/><circle cx="447.6" cy="256.7" r="1.85"/><circle cx="428.6" cy="253.6" r="1.85"/><circle cx="456.0" cy="243.0" r="1.85"/><circle cx="444.8" cy="249.1" r="1.85"/><circle cx="450.9" cy="250.6" r="1.85"/><circle cx="431.7" cy="250.8" r="1.85"/><circle cx="439.2" cy="256.4" r="1.85"/><circle cx="449.5" cy="249.8" r="1.85"/><circle cx="435.6" cy="250.9" r="1.85"/><circle cx="421.2" cy="256.5" r="1.85"/><circle cx="455.7" cy="255.3" r="1.85"/><circle cx="453.3" cy="251.7" r="1.85"/><circle cx="433.0" cy="240.9" r="1.85"/><circle cx="423.0" cy="254.5" r="1.85"/><circle cx="456.6" cy="258.9" r="1.85"/><circle cx="446.3" cy="249.4" r="1.85"/><circle cx="423.1" cy="255.7" r="1.85"/><circle cx="431.3" cy="254.1" r="1.85"/><circle cx="425.8" cy="249.1" r="1.85"/><circle cx="454.0" cy="247.3" r="1.85"/><circle cx="429.9" cy="255.6" r="1.85"/><circle cx="459.1" cy="254.1" r="1.85"/><circle cx="452.2" cy="247.0" r="1.85"/><circle cx="424.8" cy="240.3" r="1.85"/><circle cx="450.0" cy="249.5" r="1.85"/><circle cx="437.5" cy="245.6" r="1.85"/><circle cx="452.1" cy="250.0" r="1.85"/><circle cx="455.5" cy="248.1" r="1.85"/><circle cx="432.8" cy="254.7" r="1.85"/><circle cx="424.9" cy="247.9" r="1.85"/><circle cx="460.4" cy="250.4" r="1.85"/><circle cx="438.7" cy="244.3" r="1.85"/><circle cx="459.7" cy="250.7" r="1.85"/><circle cx="449.8" cy="251.3" r="1.85"/><circle cx="451.8" cy="248.8" r="1.85"/><circle cx="455.6" cy="246.4" r="1.85"/><circle cx="447.2" cy="258.8" r="1.85"/><circle cx="439.9" cy="247.0" r="1.85"/><circle cx="423.4" cy="252.0" r="1.85"/><circle cx="450.1" cy="254.0" r="1.85"/><circle cx="438.9" cy="255.8" r="1.85"/><circle cx="442.4" cy="246.3" r="1.85"/><circle cx="459.6" cy="243.8" r="1.85"/><circle cx="426.5" cy="248.6" r="1.85"/><circle cx="452.7" cy="252.0" r="1.85"/><circle cx="423.0" cy="244.9" r="1.85"/><circle cx="450.3" cy="241.7" r="1.85"/><circle cx="454.6" cy="245.8" r="1.85"/><circle cx="432.0" cy="251.7" r="1.85"/><circle cx="443.8" cy="254.9" r="1.85"/><circle cx="461.3" cy="252.5" r="1.85"/><circle cx="447.6" cy="236.2" r="1.85"/><circle cx="482.8" cy="260.0" r="1.85"/><circle cx="488.4" cy="253.3" r="1.85"/><circle cx="473.6" cy="258.2" r="1.85"/><circle cx="497.6" cy="258.5" r="1.85"/><circle cx="481.8" cy="261.7" r="1.85"/><circle cx="485.4" cy="254.3" r="1.85"/><circle cx="502.2" cy="260.8" r="1.85"/><circle cx="490.6" cy="264.7" r="1.85"/><circle cx="509.7" cy="255.6" r="1.85"/><circle cx="498.7" cy="251.0" r="1.85"/><circle cx="509.1" cy="255.9" r="1.85"/><circle cx="496.3" cy="262.0" r="1.85"/><circle cx="510.9" cy="249.5" r="1.85"/><circle cx="509.0" cy="260.8" r="1.85"/><circle cx="479.9" cy="271.2" r="1.85"/><circle cx="503.8" cy="253.9" r="1.85"/><circle cx="487.1" cy="258.2" r="1.85"/><circle cx="504.6" cy="254.0" r="1.85"/><circle cx="501.1" cy="249.0" r="1.85"/><circle cx="507.1" cy="258.6" r="1.85"/><circle cx="478.0" cy="257.2" r="1.85"/><circle cx="488.4" cy="258.4" r="1.85"/><circle cx="503.5" cy="255.2" r="1.85"/><circle cx="512.2" cy="269.8" r="1.85"/><circle cx="502.8" cy="248.7" r="1.85"/><circle cx="474.8" cy="267.1" r="1.85"/><circle cx="498.0" cy="251.9" r="1.85"/><circle cx="477.1" cy="258.3" r="1.85"/><circle cx="495.7" cy="259.0" r="1.85"/><circle cx="506.2" cy="268.2" r="1.85"/><circle cx="477.6" cy="262.7" r="1.85"/><circle cx="511.3" cy="260.0" r="1.85"/><circle cx="500.9" cy="254.9" r="1.85"/><circle cx="483.5" cy="247.8" r="1.85"/><circle cx="480.9" cy="264.3" r="1.85"/><circle cx="491.5" cy="249.9" r="1.85"/><circle cx="507.7" cy="272.9" r="1.85"/><circle cx="497.0" cy="247.6" r="1.85"/><circle cx="477.7" cy="269.7" r="1.85"/><circle cx="473.8" cy="258.3" r="1.85"/><circle cx="477.5" cy="264.5" r="1.85"/><circle cx="506.1" cy="256.9" r="1.85"/><circle cx="480.6" cy="255.8" r="1.85"/><circle cx="495.9" cy="255.2" r="1.85"/><circle cx="485.0" cy="261.5" r="1.85"/><circle cx="501.4" cy="269.1" r="1.85"/><circle cx="488.7" cy="273.3" r="1.85"/><circle cx="478.9" cy="257.1" r="1.85"/><circle cx="509.2" cy="253.9" r="1.85"/><circle cx="495.2" cy="259.3" r="1.85"/><circle cx="501.5" cy="259.7" r="1.85"/><circle cx="506.4" cy="255.3" r="1.85"/><circle cx="512.2" cy="255.2" r="1.85"/><circle cx="473.5" cy="258.3" r="1.85"/><circle cx="487.1" cy="259.0" r="1.85"/><circle cx="479.2" cy="271.6" r="1.85"/><circle cx="493.7" cy="265.4" r="1.85"/><circle cx="509.1" cy="256.5" r="1.85"/><circle cx="506.1" cy="260.7" r="1.85"/><circle cx="474.4" cy="257.3" r="1.85"/><circle cx="480.5" cy="262.3" r="1.85"/><circle cx="506.8" cy="263.4" r="1.85"/><circle cx="501.1" cy="257.3" r="1.85"/><circle cx="489.2" cy="260.4" r="1.85"/><circle cx="492.7" cy="255.1" r="1.85"/><circle cx="479.5" cy="257.3" r="1.85"/><circle cx="507.9" cy="272.6" r="1.85"/><circle cx="489.2" cy="273.9" r="1.85"/><circle cx="509.1" cy="267.8" r="1.85"/><circle cx="498.2" cy="263.1" r="1.85"/><circle cx="476.1" cy="261.4" r="1.85"/><circle cx="486.6" cy="256.8" r="1.85"/><circle cx="481.9" cy="266.1" r="1.85"/><circle cx="510.0" cy="260.2" r="1.85"/><circle cx="497.4" cy="255.6" r="1.85"/><circle cx="474.8" cy="254.6" r="1.85"/><circle cx="480.0" cy="260.8" r="1.85"/><circle cx="487.9" cy="249.6" r="1.85"/><circle cx="492.3" cy="256.8" r="1.85"/><circle cx="496.8" cy="257.0" r="1.85"/><circle cx="489.0" cy="260.6" r="1.85"/><circle cx="487.6" cy="254.7" r="1.85"/><circle cx="473.2" cy="266.9" r="1.85"/><circle cx="496.9" cy="246.2" r="1.85"/><circle cx="486.8" cy="258.6" r="1.85"/><circle cx="473.8" cy="260.0" r="1.85"/><circle cx="492.0" cy="256.9" r="1.85"/><circle cx="513.8" cy="250.9" r="1.85"/><circle cx="474.8" cy="251.6" r="1.85"/><circle cx="479.0" cy="259.3" r="1.85"/><circle cx="500.7" cy="258.7" r="1.85"/><circle cx="484.2" cy="255.7" r="1.85"/><circle cx="484.3" cy="261.9" r="1.85"/><circle cx="493.7" cy="263.2" r="1.85"/><circle cx="483.8" cy="269.3" r="1.85"/><circle cx="496.5" cy="246.8" r="1.85"/><circle cx="494.8" cy="258.3" r="1.85"/><circle cx="512.6" cy="267.1" r="1.85"/><circle cx="514.0" cy="263.3" r="1.85"/><circle cx="474.4" cy="263.1" r="1.85"/><circle cx="496.2" cy="239.1" r="1.85"/><circle cx="553.0" cy="250.1" r="1.85"/><circle cx="549.5" cy="243.8" r="1.85"/><circle cx="543.5" cy="233.5" r="1.85"/><circle cx="548.7" cy="224.2" r="1.85"/><circle cx="561.3" cy="252.1" r="1.85"/><circle cx="533.4" cy="233.3" r="1.85"/><circle cx="561.3" cy="246.4" r="1.85"/><circle cx="539.6" cy="234.5" r="1.85"/><circle cx="557.0" cy="226.6" r="1.85"/><circle cx="560.5" cy="231.5" r="1.85"/><circle cx="532.3" cy="228.9" r="1.85"/><circle cx="560.5" cy="240.8" r="1.85"/><circle cx="565.9" cy="229.7" r="1.85"/><circle cx="537.0" cy="219.0" r="1.85"/><circle cx="525.7" cy="222.2" r="1.85"/><circle cx="529.3" cy="240.3" r="1.85"/><circle cx="565.1" cy="226.5" r="1.85"/><circle cx="525.1" cy="230.4" r="1.85"/><circle cx="562.5" cy="219.7" r="1.85"/><circle cx="531.0" cy="224.9" r="1.85"/><circle cx="555.2" cy="235.7" r="1.85"/><circle cx="528.8" cy="223.0" r="1.85"/><circle cx="531.7" cy="232.4" r="1.85"/><circle cx="553.0" cy="214.1" r="1.85"/><circle cx="528.4" cy="238.7" r="1.85"/><circle cx="538.8" cy="239.8" r="1.85"/><circle cx="562.7" cy="236.0" r="1.85"/><circle cx="554.4" cy="223.2" r="1.85"/><circle cx="561.2" cy="229.6" r="1.85"/><circle cx="565.3" cy="221.4" r="1.85"/><circle cx="526.1" cy="225.1" r="1.85"/><circle cx="534.4" cy="218.1" r="1.85"/><circle cx="557.5" cy="213.6" r="1.85"/><circle cx="553.3" cy="244.2" r="1.85"/><circle cx="526.3" cy="209.9" r="1.85"/><circle cx="545.6" cy="243.1" r="1.85"/><circle cx="534.3" cy="207.5" r="1.85"/><circle cx="542.5" cy="238.5" r="1.85"/><circle cx="529.1" cy="221.1" r="1.85"/><circle cx="525.5" cy="235.4" r="1.85"/><circle cx="565.7" cy="235.6" r="1.85"/><circle cx="537.8" cy="219.3" r="1.85"/><circle cx="561.1" cy="234.6" r="1.85"/><circle cx="529.7" cy="225.4" r="1.85"/><circle cx="544.9" cy="231.5" r="1.85"/><circle cx="530.3" cy="231.6" r="1.85"/><circle cx="542.5" cy="233.4" r="1.85"/><circle cx="532.1" cy="226.2" r="1.85"/><circle cx="553.1" cy="227.5" r="1.85"/><circle cx="530.8" cy="203.5" r="1.85"/><circle cx="555.3" cy="235.9" r="1.85"/><circle cx="545.4" cy="213.3" r="1.85"/><circle cx="529.4" cy="233.4" r="1.85"/><circle cx="539.4" cy="221.4" r="1.85"/><circle cx="545.3" cy="208.9" r="1.85"/><circle cx="562.8" cy="207.4" r="1.85"/><circle cx="539.2" cy="226.8" r="1.85"/><circle cx="533.6" cy="234.2" r="1.85"/><circle cx="564.8" cy="234.4" r="1.85"/><circle cx="561.3" cy="224.8" r="1.85"/><circle cx="555.0" cy="225.1" r="1.85"/><circle cx="536.0" cy="247.4" r="1.85"/><circle cx="532.1" cy="224.5" r="1.85"/><circle cx="535.7" cy="240.3" r="1.85"/><circle cx="527.6" cy="226.9" r="1.85"/><circle cx="526.5" cy="236.4" r="1.85"/><circle cx="545.8" cy="216.6" r="1.85"/><circle cx="541.6" cy="235.0" r="1.85"/><circle cx="547.8" cy="222.3" r="1.85"/><circle cx="539.7" cy="209.2" r="1.85"/><circle cx="525.2" cy="222.2" r="1.85"/><circle cx="553.2" cy="222.1" r="1.85"/><circle cx="551.8" cy="234.2" r="1.85"/><circle cx="547.2" cy="203.0" r="1.85"/><circle cx="547.4" cy="230.6" r="1.85"/><circle cx="553.3" cy="209.8" r="1.85"/><circle cx="565.4" cy="236.6" r="1.85"/><circle cx="560.9" cy="208.5" r="1.85"/><circle cx="554.4" cy="201.4" r="1.85"/><circle cx="541.2" cy="225.8" r="1.85"/><circle cx="537.9" cy="224.2" r="1.85"/><circle cx="542.1" cy="228.9" r="1.85"/><circle cx="565.0" cy="236.2" r="1.85"/><circle cx="540.7" cy="232.3" r="1.85"/><circle cx="540.7" cy="233.6" r="1.85"/><circle cx="541.7" cy="236.0" r="1.85"/><circle cx="530.6" cy="233.7" r="1.85"/><circle cx="566.1" cy="252.2" r="1.85"/><circle cx="524.9" cy="233.0" r="1.85"/><circle cx="549.9" cy="229.5" r="1.85"/><circle cx="563.1" cy="229.8" r="1.85"/><circle cx="535.3" cy="209.1" r="1.85"/><circle cx="550.0" cy="233.2" r="1.85"/><circle cx="540.3" cy="237.1" r="1.85"/><circle cx="534.7" cy="232.7" r="1.85"/><circle cx="532.9" cy="250.0" r="1.85"/><circle cx="529.5" cy="224.7" r="1.85"/><circle cx="559.6" cy="237.8" r="1.85"/><circle cx="557.2" cy="227.3" r="1.85"/><circle cx="562.3" cy="236.6" r="1.85"/><circle cx="526.8" cy="194.7" r="1.85"/><circle cx="553.5" cy="200.1" r="1.85"/><circle cx="615.2" cy="94.5" r="1.85"/><circle cx="594.9" cy="117.6" r="1.85"/><circle cx="612.8" cy="132.0" r="1.85"/><circle cx="578.9" cy="128.9" r="1.85"/><circle cx="594.4" cy="123.4" r="1.85"/><circle cx="602.9" cy="141.8" r="1.85"/><circle cx="578.5" cy="126.6" r="1.85"/><circle cx="612.2" cy="92.8" r="1.85"/><circle cx="579.5" cy="97.6" r="1.85"/><circle cx="601.2" cy="125.2" r="1.85"/><circle cx="583.9" cy="95.0" r="1.85"/><circle cx="614.7" cy="115.7" r="1.85"/><circle cx="599.7" cy="116.6" r="1.85"/><circle cx="609.6" cy="154.9" r="1.85"/><circle cx="597.1" cy="122.0" r="1.85"/><circle cx="604.4" cy="105.4" r="1.85"/><circle cx="604.4" cy="23.4" r="1.85"/><circle cx="588.7" cy="122.0" r="1.85"/><circle cx="585.2" cy="128.1" r="1.85"/><circle cx="611.2" cy="77.3" r="1.85"/><circle cx="582.5" cy="154.1" r="1.85"/><circle cx="614.5" cy="128.4" r="1.85"/><circle cx="585.0" cy="179.3" r="1.85"/><circle cx="580.7" cy="64.1" r="1.85"/><circle cx="580.4" cy="176.1" r="1.85"/><circle cx="609.0" cy="78.3" r="1.85"/><circle cx="615.9" cy="108.4" r="1.85"/><circle cx="593.6" cy="90.5" r="1.85"/><circle cx="603.8" cy="120.5" r="1.85"/><circle cx="587.1" cy="63.2" r="1.85"/><circle cx="614.0" cy="168.3" r="1.85"/><circle cx="604.9" cy="98.8" r="1.85"/><circle cx="582.9" cy="172.3" r="1.85"/><circle cx="578.8" cy="42.7" r="1.85"/><circle cx="605.3" cy="97.7" r="1.85"/><circle cx="578.2" cy="64.8" r="1.85"/><circle cx="611.1" cy="101.3" r="1.85"/><circle cx="588.6" cy="75.6" r="1.85"/><circle cx="586.1" cy="112.2" r="1.85"/><circle cx="600.6" cy="39.8" r="1.85"/><circle cx="589.7" cy="102.7" r="1.85"/><circle cx="599.7" cy="30.8" r="1.85"/><circle cx="582.9" cy="46.0" r="1.85"/><circle cx="614.2" cy="140.2" r="1.85"/><circle cx="589.9" cy="90.8" r="1.85"/><circle cx="611.3" cy="118.8" r="1.85"/><circle cx="582.8" cy="59.9" r="1.85"/><circle cx="609.6" cy="92.8" r="1.85"/><circle cx="617.1" cy="100.6" r="1.85"/><circle cx="592.7" cy="128.0" r="1.85"/><circle cx="577.8" cy="101.2" r="1.85"/><circle cx="592.2" cy="130.4" r="1.85"/><circle cx="603.0" cy="19.8" r="1.85"/><circle cx="585.7" cy="118.8" r="1.85"/><circle cx="599.1" cy="117.9" r="1.85"/><circle cx="580.4" cy="36.9" r="1.85"/><circle cx="595.7" cy="97.6" r="1.85"/><circle cx="606.6" cy="88.0" r="1.85"/><circle cx="594.3" cy="132.7" r="1.85"/><circle cx="604.6" cy="120.7" r="1.85"/><circle cx="581.2" cy="89.6" r="1.85"/><circle cx="610.8" cy="98.9" r="1.85"/><circle cx="581.5" cy="152.9" r="1.85"/><circle cx="614.7" cy="97.9" r="1.85"/><circle cx="617.7" cy="166.7" r="1.85"/><circle cx="615.4" cy="119.4" r="1.85"/><circle cx="598.3" cy="42.7" r="1.85"/><circle cx="588.5" cy="127.2" r="1.85"/><circle cx="590.9" cy="136.3" r="1.85"/><circle cx="607.5" cy="82.4" r="1.85"/><circle cx="597.0" cy="135.6" r="1.85"/><circle cx="615.0" cy="37.1" r="1.85"/><circle cx="580.3" cy="112.2" r="1.85"/><circle cx="596.5" cy="125.9" r="1.85"/><circle cx="612.3" cy="109.6" r="1.85"/><circle cx="601.2" cy="119.8" r="1.85"/><circle cx="598.9" cy="132.0" r="1.85"/><circle cx="580.1" cy="179.6" r="1.85"/><circle cx="582.3" cy="67.2" r="1.85"/><circle cx="587.7" cy="111.1" r="1.85"/><circle cx="613.5" cy="143.9" r="1.85"/><circle cx="611.5" cy="103.0" r="1.85"/><circle cx="585.9" cy="89.1" r="1.85"/><circle cx="614.8" cy="121.7" r="1.85"/><circle cx="577.8" cy="109.7" r="1.85"/><circle cx="601.3" cy="88.9" r="1.85"/><circle cx="616.5" cy="178.6" r="1.85"/><circle cx="590.7" cy="105.8" r="1.85"/><circle cx="615.6" cy="53.3" r="1.85"/><circle cx="603.7" cy="99.2" r="1.85"/><circle cx="578.5" cy="96.1" r="1.85"/><circle cx="590.3" cy="90.6" r="1.85"/><circle cx="595.1" cy="24.0" r="1.85"/><circle cx="586.7" cy="112.1" r="1.85"/><circle cx="607.2" cy="97.4" r="1.85"/><circle cx="583.9" cy="96.6" r="1.85"/><circle cx="609.1" cy="104.0" r="1.85"/><circle cx="588.8" cy="144.8" r="1.85"/><circle cx="579.4" cy="127.9" r="1.85"/><circle cx="599.6" cy="120.5" r="1.85"/><circle cx="651.1" cy="228.3" r="1.85"/><circle cx="663.9" cy="258.1" r="1.85"/><circle cx="649.5" cy="243.1" r="1.85"/><circle cx="643.8" cy="244.1" r="1.85"/><circle cx="666.7" cy="244.4" r="1.85"/><circle cx="665.2" cy="246.0" r="1.85"/><circle cx="655.8" cy="238.3" r="1.85"/><circle cx="631.4" cy="234.8" r="1.85"/><circle cx="654.1" cy="253.4" r="1.85"/><circle cx="646.6" cy="265.2" r="1.85"/><circle cx="667.9" cy="242.3" r="1.85"/><circle cx="643.2" cy="218.7" r="1.85"/><circle cx="655.6" cy="229.6" r="1.85"/><circle cx="654.4" cy="244.3" r="1.85"/><circle cx="643.8" cy="242.1" r="1.85"/><circle cx="649.9" cy="247.2" r="1.85"/><circle cx="656.3" cy="241.9" r="1.85"/><circle cx="665.8" cy="241.8" r="1.85"/><circle cx="648.9" cy="234.1" r="1.85"/><circle cx="643.3" cy="256.2" r="1.85"/><circle cx="668.7" cy="250.9" r="1.85"/><circle cx="630.6" cy="255.9" r="1.85"/><circle cx="662.8" cy="257.6" r="1.85"/><circle cx="656.5" cy="245.1" r="1.85"/><circle cx="651.3" cy="251.5" r="1.85"/><circle cx="646.8" cy="243.2" r="1.85"/><circle cx="659.3" cy="239.4" r="1.85"/><circle cx="665.1" cy="236.5" r="1.85"/><circle cx="658.4" cy="227.7" r="1.85"/><circle cx="659.3" cy="227.2" r="1.85"/><circle cx="629.7" cy="260.8" r="1.85"/><circle cx="641.7" cy="234.0" r="1.85"/><circle cx="633.9" cy="250.8" r="1.85"/><circle cx="667.7" cy="226.7" r="1.85"/><circle cx="665.2" cy="249.5" r="1.85"/><circle cx="634.2" cy="237.2" r="1.85"/><circle cx="652.6" cy="236.3" r="1.85"/><circle cx="652.1" cy="216.5" r="1.85"/><circle cx="630.2" cy="240.3" r="1.85"/><circle cx="644.5" cy="234.0" r="1.85"/><circle cx="659.2" cy="248.5" r="1.85"/><circle cx="654.8" cy="232.5" r="1.85"/><circle cx="639.9" cy="234.5" r="1.85"/><circle cx="659.8" cy="232.8" r="1.85"/><circle cx="640.3" cy="269.1" r="1.85"/><circle cx="650.8" cy="255.8" r="1.85"/><circle cx="645.7" cy="237.4" r="1.85"/><circle cx="668.7" cy="261.8" r="1.85"/><circle cx="655.1" cy="244.9" r="1.85"/><circle cx="661.6" cy="249.7" r="1.85"/><circle cx="656.3" cy="251.2" r="1.85"/><circle cx="644.0" cy="246.0" r="1.85"/><circle cx="668.1" cy="215.5" r="1.85"/><circle cx="657.6" cy="249.0" r="1.85"/><circle cx="656.8" cy="220.4" r="1.85"/><circle cx="639.7" cy="266.2" r="1.85"/><circle cx="634.9" cy="249.6" r="1.85"/><circle cx="652.1" cy="258.0" r="1.85"/><circle cx="662.4" cy="237.0" r="1.85"/><circle cx="661.1" cy="265.2" r="1.85"/><circle cx="642.6" cy="236.0" r="1.85"/><circle cx="634.0" cy="250.5" r="1.85"/><circle cx="649.6" cy="215.4" r="1.85"/><circle cx="664.6" cy="252.4" r="1.85"/><circle cx="635.0" cy="252.2" r="1.85"/><circle cx="658.8" cy="230.4" r="1.85"/><circle cx="635.3" cy="229.7" r="1.85"/><circle cx="641.2" cy="260.2" r="1.85"/><circle cx="630.5" cy="246.3" r="1.85"/><circle cx="640.6" cy="263.0" r="1.85"/><circle cx="644.1" cy="250.5" r="1.85"/><circle cx="668.3" cy="254.5" r="1.85"/><circle cx="668.1" cy="225.7" r="1.85"/><circle cx="636.0" cy="253.5" r="1.85"/><circle cx="641.1" cy="249.7" r="1.85"/><circle cx="667.3" cy="250.9" r="1.85"/><circle cx="636.4" cy="243.3" r="1.85"/><circle cx="641.5" cy="220.9" r="1.85"/><circle cx="646.4" cy="238.7" r="1.85"/><circle cx="632.7" cy="240.8" r="1.85"/><circle cx="639.0" cy="232.4" r="1.85"/><circle cx="644.6" cy="258.6" r="1.85"/><circle cx="644.2" cy="242.7" r="1.85"/><circle cx="668.1" cy="238.0" r="1.85"/><circle cx="639.3" cy="238.3" r="1.85"/><circle cx="636.7" cy="251.3" r="1.85"/><circle cx="665.9" cy="243.7" r="1.85"/><circle cx="646.9" cy="251.8" r="1.85"/><circle cx="662.9" cy="236.0" r="1.85"/><circle cx="654.6" cy="241.7" r="1.85"/><circle cx="660.5" cy="258.4" r="1.85"/><circle cx="641.3" cy="254.3" r="1.85"/><circle cx="634.5" cy="236.0" r="1.85"/><circle cx="659.6" cy="250.8" r="1.85"/><circle cx="647.7" cy="220.3" r="1.85"/><circle cx="651.4" cy="228.9" r="1.85"/><circle cx="656.0" cy="234.8" r="1.85"/><circle cx="659.4" cy="255.3" r="1.85"/><circle cx="639.6" cy="252.4" r="1.85"/><circle cx="643.3" cy="242.6" r="1.85"/><circle cx="666.2" cy="210.4" r="1.85"/></g><path d="M71.53 185.2H87.58M71.53 231.3H87.58M79.56 185.2V231.3" stroke="#222" stroke-width="1.2" fill="none"/><rect x="60.15" y="202.6" width="38.82" height="13.40" fill="#502f60" fill-opacity="0.76" stroke="#404040" stroke-width="1.0"/><line x1="79.56" x2="79.56" y1="203.1" y2="215.5" stroke="#111" stroke-width="1.3" stroke-opacity="0.9"/><line x1="60.15" x2="98.97" y1="208.2" y2="208.2" stroke="#2c2c2c" stroke-width="1.85"/><path d="M123.30 220.2H139.34M123.30 284.5H139.34M131.32 220.2V284.5" stroke="#222" stroke-width="1.2" fill="none"/><rect x="111.91" y="244.3" width="38.82" height="18.70" fill="#5b407d" fill-opacity="0.76" stroke="#404040" stroke-width="1.0"/><line x1="131.32" x2="131.32" y1="244.8" y2="262.5" stroke="#111" stroke-width="1.3" stroke-opacity="0.9"/><line x1="111.91" x2="150.73" y1="253.6" y2="253.6" stroke="#2c2c2c" stroke-width="1.85"/><path d="M175.06 212.7H191.11M175.06 261.1H191.11M183.08 212.7V261.1" stroke="#222" stroke-width="1.2" fill="none"/><rect x="163.67" y="231.9" width="38.82" height="12.80" fill="#5b5190" fill-opacity="0.76" stroke="#404040" stroke-width="1.0"/><line x1="183.08" x2="183.08" y1="232.4" y2="244.2" stroke="#111" stroke-width="1.3" stroke-opacity="0.9"/><line x1="163.67" x2="202.49" y1="238.4" y2="238.4" stroke="#2c2c2c" stroke-width="1.85"/><circle cx="183.08" cy="196.2" r="2" fill="#262626"/><path d="M226.82 211.5H242.87M226.82 283.4H242.87M234.84 211.5V283.4" stroke="#222" stroke-width="1.2" fill="none"/><rect x="215.43" y="239.5" width="38.82" height="22.50" fill="#596597" fill-opacity="0.76" stroke="#404040" stroke-width="1.0"/><line x1="234.84" x2="234.84" y1="240.0" y2="261.5" stroke="#111" stroke-width="1.3" stroke-opacity="0.9"/><line x1="215.43" x2="254.26" y1="250.0" y2="250.0" stroke="#2c2c2c" stroke-width="1.85"/><circle cx="234.84" cy="202.4" r="2" fill="#262626"/><path d="M278.58 203.2H294.63M278.58 274.5H294.63M286.61 203.2V274.5" stroke="#222" stroke-width="1.2" fill="none"/><rect x="267.20" y="227.4" width="38.82" height="19.80" fill="#577a98" fill-opacity="0.76" stroke="#404040" stroke-width="1.0"/><line x1="286.61" x2="286.61" y1="227.9" y2="246.7" stroke="#111" stroke-width="1.3" stroke-opacity="0.9"/><line x1="267.20" x2="306.02" y1="235.3" y2="235.3" stroke="#2c2c2c" stroke-width="1.85"/><circle cx="286.61" cy="277.5" r="2" fill="#262626"/><path d="M330.35 220.7H346.39M330.35 267.1H346.39M338.37 220.7V267.1" stroke="#222" stroke-width="1.2" fill="none"/><rect x="318.96" y="239.0" width="38.82" height="13.30" fill="#589097" fill-opacity="0.76" stroke="#404040" stroke-width="1.0"/><line x1="338.37" x2="338.37" y1="239.5" y2="251.8" stroke="#111" stroke-width="1.3" stroke-opacity="0.9"/><line x1="318.96" x2="357.78" y1="247.1" y2="247.1" stroke="#2c2c2c" stroke-width="1.85"/><circle cx="338.37" cy="212.7" r="2" fill="#262626"/><circle cx="338.37" cy="217.6" r="2" fill="#262626"/><path d="M382.11 140.5H398.15M382.11 227.9H398.15M390.13 140.5V227.9" stroke="#222" stroke-width="1.2" fill="none"/><rect x="370.72" y="172.3" width="38.82" height="25.90" fill="#61a494" fill-opacity="0.76" stroke="#404040" stroke-width="1.0"/><line x1="390.13" x2="390.13" y1="172.8" y2="197.7" stroke="#111" stroke-width="1.3" stroke-opacity="0.9"/><line x1="370.72" x2="409.54" y1="184.2" y2="184.2" stroke="#2c2c2c" stroke-width="1.85"/><path d="M433.87 239.9H449.92M433.87 261.3H449.92M441.89 239.9V261.3" stroke="#222" stroke-width="1.2" fill="none"/><rect x="422.48" y="248.3" width="38.82" height="5.20" fill="#6abb8b" fill-opacity="0.76" stroke="#404040" stroke-width="1.0"/><line x1="441.89" x2="441.89" y1="248.8" y2="253.0" stroke="#111" stroke-width="1.3" stroke-opacity="0.9"/><line x1="422.48" x2="461.30" y1="251.1" y2="251.1" stroke="#2c2c2c" stroke-width="1.85"/><circle cx="441.89" cy="236.2" r="2" fill="#262626"/><path d="M485.63 243.4H501.68M485.63 274.4H501.68M493.66 243.4V274.4" stroke="#222" stroke-width="1.2" fill="none"/><rect x="474.24" y="255.2" width="38.82" height="7.80" fill="#77c27a" fill-opacity="0.76" stroke="#404040" stroke-width="1.0"/><line x1="493.66" x2="493.66" y1="255.7" y2="262.5" stroke="#111" stroke-width="1.3" stroke-opacity="0.9"/><line x1="474.24" x2="513.07" y1="259.0" y2="259.0" stroke="#2c2c2c" stroke-width="1.85"/><circle cx="493.66" cy="239.1" r="2" fill="#262626"/><path d="M537.39 200.7H553.44M537.39 254.0H553.44M545.42 200.7V254.0" stroke="#222" stroke-width="1.2" fill="none"/><rect x="526.01" y="222.2" width="38.82" height="13.70" fill="#a4d069" fill-opacity="0.76" stroke="#404040" stroke-width="1.0"/><line x1="545.42" x2="545.42" y1="222.7" y2="235.4" stroke="#111" stroke-width="1.3" stroke-opacity="0.9"/><line x1="526.01" x2="564.83" y1="232.1" y2="232.1" stroke="#2c2c2c" stroke-width="1.85"/><circle cx="545.42" cy="194.7" r="2" fill="#262626"/><circle cx="545.42" cy="200.1" r="2" fill="#262626"/><path d="M589.16 17.5H605.20M589.16 188.1H605.20M597.18 17.5V188.1" stroke="#222" stroke-width="1.2" fill="none"/><rect x="577.77" y="85.5" width="38.82" height="46.50" fill="#ccdd5e" fill-opacity="0.76" stroke="#404040" stroke-width="1.0"/><line x1="597.18" x2="597.18" y1="86.0" y2="131.5" stroke="#111" stroke-width="1.3" stroke-opacity="0.9"/><line x1="577.77" x2="616.59" y1="111.0" y2="111.0" stroke="#2c2c2c" stroke-width="1.85"/><path d="M640.92 214.2H656.97M640.92 269.2H656.97M648.94 214.2V269.2" stroke="#222" stroke-width="1.2" fill="none"/><rect x="629.53" y="235.7" width="38.82" height="15.20" fill="#f7e25e" fill-opacity="0.76" stroke="#404040" stroke-width="1.0"/><line x1="648.94" x2="648.94" y1="236.2" y2="250.4" stroke="#111" stroke-width="1.3" stroke-opacity="0.9"/><line x1="629.53" x2="668.35" y1="243.4" y2="243.4" stroke="#2c2c2c" stroke-width="1.85"/><circle cx="648.94" cy="210.4" r="2" fill="#262626"/><rect x="48.9" y="4.5" width="631.1" height="292.8" fill="none" stroke="#c4c4c4" stroke-width="1.05"/><line x1="46.0" x2="48.5" y1="231.60" y2="231.60" stroke="#b3b3b3" stroke-width="1"/><text transform="translate(44.80,235.85) scale(1,1.1)" text-anchor="end" font-size="11.5" fill="#4d4d4d">0.05</text><line x1="46.0" x2="48.5" y1="155.30" y2="155.30" stroke="#b3b3b3" stroke-width="1"/><text transform="translate(44.80,159.55) scale(1,1.1)" text-anchor="end" font-size="11.5" fill="#4d4d4d">0.10</text><line x1="46.0" x2="48.5" y1="79.00" y2="79.00" stroke="#b3b3b3" stroke-width="1"/><text transform="translate(44.80,83.25) scale(1,1.1)" text-anchor="end" font-size="11.5" fill="#4d4d4d">0.15</text><line x1="79.56" x2="79.56" y1="297.3" y2="299.8" stroke="#b3b3b3" stroke-width="1"/><line x1="131.32" x2="131.32" y1="297.3" y2="299.8" stroke="#b3b3b3" stroke-width="1"/><line x1="183.08" x2="183.08" y1="297.3" y2="299.8" stroke="#b3b3b3" stroke-width="1"/><line x1="234.84" x2="234.84" y1="297.3" y2="299.8" stroke="#b3b3b3" stroke-width="1"/><line x1="286.61" x2="286.61" y1="297.3" y2="299.8" stroke="#b3b3b3" stroke-width="1"/><line x1="338.37" x2="338.37" y1="297.3" y2="299.8" stroke="#b3b3b3" stroke-width="1"/><line x1="390.13" x2="390.13" y1="297.3" y2="299.8" stroke="#b3b3b3" stroke-width="1"/><line x1="441.89" x2="441.89" y1="297.3" y2="299.8" stroke="#b3b3b3" stroke-width="1"/><line x1="493.66" x2="493.66" y1="297.3" y2="299.8" stroke="#b3b3b3" stroke-width="1"/><line x1="545.42" x2="545.42" y1="297.3" y2="299.8" stroke="#b3b3b3" stroke-width="1"/><line x1="597.18" x2="597.18" y1="297.3" y2="299.8" stroke="#b3b3b3" stroke-width="1"/><line x1="648.94" x2="648.94" y1="297.3" y2="299.8" stroke="#b3b3b3" stroke-width="1"/><line x1="48.5" x2="680.0" y1="562.90" y2="562.90" stroke="#f0f0f0" stroke-width="0.8"/><line x1="48.5" x2="680.0" y1="467.90" y2="467.90" stroke="#f0f0f0" stroke-width="0.8"/><line x1="48.5" x2="680.0" y1="372.90" y2="372.90" stroke="#f0f0f0" stroke-width="0.8"/><line x1="48.5" x2="680.0" y1="515.40" y2="515.40" stroke="#ebebeb" stroke-width="1.1"/><line x1="48.5" x2="680.0" y1="420.40" y2="420.40" stroke="#ebebeb" stroke-width="1.1"/><line x1="48.5" x2="680.0" y1="325.40" y2="325.40" stroke="#ebebeb" stroke-width="1.1"/><line x1="79.56" x2="79.56" y1="308.5" y2="601.0" stroke="#ebebeb" stroke-width="1.1"/><line x1="131.32" x2="131.32" y1="308.5" y2="601.0" stroke="#ebebeb" stroke-width="1.1"/><line x1="183.08" x2="183.08" y1="308.5" y2="601.0" stroke="#ebebeb" stroke-width="1.1"/><line x1="234.84" x2="234.84" y1="308.5" y2="601.0" stroke="#ebebeb" stroke-width="1.1"/><line x1="286.61" x2="286.61" y1="308.5" y2="601.0" stroke="#ebebeb" stroke-width="1.1"/><line x1="338.37" x2="338.37" y1="308.5" y2="601.0" stroke="#ebebeb" stroke-width="1.1"/><line x1="390.13" x2="390.13" y1="308.5" y2="601.0" stroke="#ebebeb" stroke-width="1.1"/><line x1="441.89" x2="441.89" y1="308.5" y2="601.0" stroke="#ebebeb" stroke-width="1.1"/><line x1="493.66" x2="493.66" y1="308.5" y2="601.0" stroke="#ebebeb" stroke-width="1.1"/><line x1="545.42" x2="545.42" y1="308.5" y2="601.0" stroke="#ebebeb" stroke-width="1.1"/><line x1="597.18" x2="597.18" y1="308.5" y2="601.0" stroke="#ebebeb" stroke-width="1.1"/><line x1="648.94" x2="648.94" y1="308.5" y2="601.0" stroke="#ebebeb" stroke-width="1.1"/><g fill="#d2d2d2"><circle cx="75.5" cy="414.0" r="1.85"/><circle cx="70.6" cy="413.9" r="1.85"/><circle cx="66.9" cy="414.1" r="1.85"/><circle cx="89.3" cy="413.9" r="1.85"/><circle cx="80.2" cy="414.1" r="1.85"/><circle cx="77.0" cy="413.8" r="1.85"/><circle cx="67.0" cy="414.1" r="1.85"/><circle cx="88.0" cy="414.0" r="1.85"/><circle cx="67.0" cy="413.9" r="1.85"/><circle cx="69.9" cy="414.2" r="1.85"/><circle cx="82.1" cy="413.9" r="1.85"/><circle cx="87.9" cy="413.9" r="1.85"/><circle cx="99.1" cy="422.4" r="1.85"/><circle cx="89.8" cy="422.6" r="1.85"/><circle cx="98.1" cy="422.7" r="1.85"/><circle cx="96.9" cy="422.7" r="1.85"/><circle cx="88.8" cy="422.6" r="1.85"/><circle cx="88.6" cy="422.7" r="1.85"/><circle cx="61.5" cy="416.9" r="1.85"/><circle cx="67.4" cy="474.9" r="1.85"/><circle cx="59.4" cy="466.2" r="1.85"/><circle cx="94.6" cy="457.5" r="1.85"/><circle cx="88.7" cy="469.1" r="1.85"/><circle cx="84.9" cy="422.7" r="1.85"/><circle cx="69.8" cy="457.5" r="1.85"/><circle cx="73.6" cy="419.8" r="1.85"/><circle cx="65.6" cy="440.1" r="1.85"/><circle cx="85.0" cy="474.9" r="1.85"/><circle cx="99.9" cy="425.6" r="1.85"/><circle cx="71.5" cy="416.9" r="1.85"/><circle cx="60.7" cy="445.9" r="1.85"/><circle cx="66.1" cy="463.3" r="1.85"/><circle cx="73.6" cy="440.1" r="1.85"/><circle cx="96.1" cy="419.8" r="1.85"/><circle cx="92.2" cy="472.0" r="1.85"/><circle cx="77.7" cy="422.7" r="1.85"/><circle cx="63.1" cy="460.4" r="1.85"/><circle cx="63.3" cy="474.9" r="1.85"/><circle cx="65.2" cy="472.0" r="1.85"/><circle cx="91.0" cy="472.0" r="1.85"/><circle cx="78.4" cy="419.8" r="1.85"/><circle cx="99.9" cy="466.2" r="1.85"/><circle cx="96.6" cy="425.6" r="1.85"/><circle cx="91.8" cy="472.0" r="1.85"/><circle cx="78.6" cy="425.6" r="1.85"/><circle cx="92.9" cy="425.6" r="1.85"/><circle cx="64.2" cy="477.8" r="1.85"/><circle cx="63.4" cy="457.5" r="1.85"/><circle cx="82.2" cy="451.7" r="1.85"/><circle cx="79.9" cy="457.5" r="1.85"/><circle cx="67.5" cy="416.9" r="1.85"/><circle cx="69.3" cy="425.6" r="1.85"/><circle cx="59.7" cy="416.9" r="1.85"/><circle cx="96.5" cy="445.9" r="1.85"/><circle cx="88.3" cy="414.0" r="1.85"/><circle cx="98.0" cy="416.9" r="1.85"/><circle cx="99.5" cy="457.5" r="1.85"/><circle cx="76.9" cy="422.7" r="1.85"/><circle cx="89.2" cy="419.8" r="1.85"/><circle cx="74.8" cy="419.8" r="1.85"/><circle cx="92.5" cy="463.3" r="1.85"/><circle cx="93.7" cy="414.0" r="1.85"/><circle cx="64.4" cy="416.9" r="1.85"/><circle cx="59.4" cy="428.5" r="1.85"/><circle cx="67.7" cy="469.1" r="1.85"/><circle cx="83.1" cy="457.5" r="1.85"/><circle cx="74.5" cy="440.1" r="1.85"/><circle cx="59.2" cy="419.8" r="1.85"/><circle cx="93.2" cy="472.0" r="1.85"/><circle cx="91.4" cy="457.5" r="1.85"/><circle cx="78.1" cy="451.7" r="1.85"/><circle cx="60.6" cy="431.4" r="1.85"/><circle cx="95.7" cy="443.0" r="1.85"/><circle cx="81.0" cy="460.4" r="1.85"/><circle cx="61.8" cy="425.6" r="1.85"/><circle cx="139.9" cy="473.3" r="1.85"/><circle cx="121.1" cy="473.4" r="1.85"/><circle cx="123.1" cy="473.6" r="1.85"/><circle cx="125.0" cy="473.4" r="1.85"/><circle cx="124.0" cy="473.5" r="1.85"/><circle cx="114.5" cy="473.3" r="1.85"/><circle cx="129.0" cy="473.3" r="1.85"/><circle cx="151.2" cy="473.6" r="1.85"/><circle cx="137.7" cy="473.4" r="1.85"/><circle cx="149.2" cy="473.2" r="1.85"/><circle cx="142.2" cy="473.4" r="1.85"/><circle cx="145.3" cy="473.3" r="1.85"/><circle cx="151.8" cy="481.9" r="1.85"/><circle cx="141.8" cy="482.0" r="1.85"/><circle cx="122.0" cy="482.0" r="1.85"/><circle cx="121.0" cy="482.1" r="1.85"/><circle cx="127.7" cy="482.1" r="1.85"/><circle cx="111.5" cy="482.0" r="1.85"/><circle cx="120.2" cy="473.4" r="1.85"/><circle cx="147.3" cy="473.4" r="1.85"/><circle cx="148.7" cy="508.2" r="1.85"/><circle cx="124.2" cy="516.9" r="1.85"/><circle cx="142.5" cy="531.4" r="1.85"/><circle cx="142.7" cy="499.5" r="1.85"/><circle cx="147.5" cy="528.5" r="1.85"/><circle cx="143.5" cy="473.4" r="1.85"/><circle cx="132.6" cy="516.9" r="1.85"/><circle cx="115.0" cy="508.2" r="1.85"/><circle cx="144.8" cy="528.5" r="1.85"/><circle cx="123.6" cy="514.0" r="1.85"/><circle cx="136.6" cy="473.4" r="1.85"/><circle cx="125.8" cy="514.0" r="1.85"/><circle cx="132.9" cy="473.4" r="1.85"/><circle cx="150.6" cy="516.9" r="1.85"/><circle cx="117.3" cy="537.2" r="1.85"/><circle cx="132.6" cy="537.2" r="1.85"/><circle cx="137.5" cy="493.7" r="1.85"/><circle cx="132.9" cy="473.4" r="1.85"/><circle cx="149.5" cy="473.4" r="1.85"/><circle cx="127.5" cy="516.9" r="1.85"/><circle cx="148.5" cy="516.9" r="1.85"/><circle cx="139.2" cy="499.5" r="1.85"/><circle cx="150.7" cy="537.2" r="1.85"/><circle cx="114.3" cy="511.1" r="1.85"/><circle cx="119.4" cy="525.6" r="1.85"/><circle cx="122.5" cy="525.6" r="1.85"/><circle cx="148.2" cy="528.5" r="1.85"/><circle cx="111.2" cy="514.0" r="1.85"/><circle cx="121.4" cy="473.4" r="1.85"/><circle cx="140.3" cy="487.9" r="1.85"/><circle cx="151.6" cy="473.4" r="1.85"/><circle cx="117.9" cy="473.4" r="1.85"/><circle cx="128.8" cy="522.7" r="1.85"/><circle cx="139.1" cy="482.1" r="1.85"/><circle cx="139.2" cy="487.9" r="1.85"/><circle cx="141.5" cy="473.4" r="1.85"/><circle cx="141.8" cy="502.4" r="1.85"/><circle cx="120.9" cy="473.4" r="1.85"/><circle cx="121.3" cy="534.3" r="1.85"/><circle cx="111.8" cy="473.4" r="1.85"/><circle cx="139.2" cy="479.2" r="1.85"/><circle cx="119.3" cy="482.1" r="1.85"/><circle cx="121.4" cy="531.4" r="1.85"/><circle cx="150.5" cy="473.4" r="1.85"/><circle cx="137.3" cy="473.4" r="1.85"/><circle cx="135.1" cy="525.6" r="1.85"/><circle cx="137.8" cy="505.3" r="1.85"/><circle cx="135.4" cy="528.5" r="1.85"/><circle cx="139.4" cy="531.4" r="1.85"/><circle cx="123.2" cy="537.2" r="1.85"/><circle cx="113.3" cy="531.4" r="1.85"/><circle cx="113.4" cy="473.4" r="1.85"/><circle cx="111.2" cy="522.7" r="1.85"/><circle cx="125.6" cy="516.9" r="1.85"/><circle cx="116.5" cy="522.7" r="1.85"/><circle cx="199.8" cy="434.5" r="1.85"/><circle cx="169.9" cy="434.7" r="1.85"/><circle cx="171.8" cy="434.9" r="1.85"/><circle cx="187.1" cy="434.8" r="1.85"/><circle cx="199.7" cy="434.6" r="1.85"/><circle cx="165.8" cy="434.8" r="1.85"/><circle cx="171.4" cy="434.6" r="1.85"/><circle cx="163.9" cy="434.5" r="1.85"/><circle cx="180.6" cy="434.6" r="1.85"/><circle cx="168.2" cy="434.7" r="1.85"/><circle cx="170.3" cy="434.8" r="1.85"/><circle cx="193.4" cy="434.7" r="1.85"/><circle cx="186.5" cy="443.4" r="1.85"/><circle cx="201.3" cy="443.1" r="1.85"/><circle cx="179.0" cy="443.5" r="1.85"/><circle cx="190.5" cy="443.2" r="1.85"/><circle cx="162.9" cy="443.4" r="1.85"/><circle cx="201.6" cy="443.1" r="1.85"/><circle cx="172.0" cy="495.6" r="1.85"/><circle cx="182.1" cy="521.7" r="1.85"/><circle cx="183.6" cy="498.5" r="1.85"/><circle cx="201.6" cy="434.7" r="1.85"/><circle cx="182.8" cy="495.6" r="1.85"/><circle cx="203.4" cy="510.1" r="1.85"/><circle cx="188.1" cy="495.6" r="1.85"/><circle cx="171.3" cy="440.5" r="1.85"/><circle cx="196.9" cy="501.4" r="1.85"/><circle cx="170.7" cy="510.1" r="1.85"/><circle cx="203.8" cy="440.5" r="1.85"/><circle cx="181.3" cy="434.7" r="1.85"/><circle cx="171.7" cy="434.7" r="1.85"/><circle cx="202.2" cy="475.3" r="1.85"/><circle cx="175.7" cy="437.6" r="1.85"/><circle cx="179.2" cy="440.5" r="1.85"/><circle cx="176.6" cy="446.3" r="1.85"/><circle cx="190.1" cy="434.7" r="1.85"/><circle cx="163.3" cy="440.5" r="1.85"/><circle cx="177.9" cy="495.6" r="1.85"/><circle cx="169.1" cy="440.5" r="1.85"/><circle cx="196.7" cy="457.9" r="1.85"/><circle cx="162.4" cy="507.2" r="1.85"/><circle cx="187.5" cy="489.8" r="1.85"/><circle cx="173.1" cy="521.7" r="1.85"/><circle cx="181.2" cy="440.5" r="1.85"/><circle cx="185.6" cy="446.3" r="1.85"/><circle cx="191.8" cy="475.3" r="1.85"/><circle cx="168.1" cy="434.7" r="1.85"/><circle cx="172.3" cy="449.2" r="1.85"/><circle cx="167.4" cy="437.6" r="1.85"/><circle cx="202.1" cy="434.7" r="1.85"/><circle cx="168.6" cy="463.7" r="1.85"/><circle cx="168.1" cy="510.1" r="1.85"/><circle cx="184.0" cy="434.7" r="1.85"/><circle cx="186.5" cy="510.1" r="1.85"/><circle cx="199.1" cy="527.5" r="1.85"/><circle cx="164.7" cy="492.7" r="1.85"/><circle cx="172.1" cy="507.2" r="1.85"/><circle cx="169.3" cy="440.5" r="1.85"/><circle cx="186.6" cy="495.6" r="1.85"/><circle cx="181.1" cy="434.7" r="1.85"/><circle cx="179.3" cy="507.2" r="1.85"/><circle cx="199.2" cy="492.7" r="1.85"/><circle cx="189.8" cy="457.9" r="1.85"/><circle cx="198.0" cy="437.6" r="1.85"/><circle cx="202.0" cy="446.3" r="1.85"/><circle cx="173.5" cy="507.2" r="1.85"/><circle cx="201.4" cy="440.5" r="1.85"/><circle cx="179.3" cy="507.2" r="1.85"/><circle cx="164.5" cy="434.7" r="1.85"/><circle cx="200.3" cy="510.1" r="1.85"/><circle cx="166.7" cy="437.6" r="1.85"/><circle cx="163.1" cy="513.0" r="1.85"/><circle cx="174.4" cy="434.7" r="1.85"/><circle cx="174.3" cy="518.8" r="1.85"/><circle cx="202.4" cy="501.4" r="1.85"/><circle cx="223.6" cy="431.1" r="1.85"/><circle cx="247.1" cy="431.0" r="1.85"/><circle cx="247.3" cy="431.0" r="1.85"/><circle cx="218.0" cy="431.1" r="1.85"/><circle cx="238.4" cy="431.1" r="1.85"/><circle cx="222.1" cy="431.1" r="1.85"/><circle cx="243.4" cy="431.0" r="1.85"/><circle cx="247.4" cy="430.8" r="1.85"/><circle cx="246.9" cy="430.9" r="1.85"/><circle cx="223.7" cy="431.1" r="1.85"/><circle cx="218.0" cy="431.0" r="1.85"/><circle cx="241.6" cy="431.1" r="1.85"/><circle cx="237.5" cy="439.8" r="1.85"/><circle cx="219.9" cy="439.8" r="1.85"/><circle cx="222.1" cy="439.5" r="1.85"/><circle cx="238.3" cy="439.4" r="1.85"/><circle cx="218.6" cy="439.8" r="1.85"/><circle cx="240.4" cy="439.6" r="1.85"/><circle cx="224.1" cy="445.5" r="1.85"/><circle cx="224.8" cy="457.1" r="1.85"/><circle cx="231.7" cy="486.1" r="1.85"/><circle cx="236.2" cy="512.2" r="1.85"/><circle cx="244.1" cy="541.2" r="1.85"/><circle cx="215.4" cy="494.8" r="1.85"/><circle cx="244.1" cy="509.3" r="1.85"/><circle cx="223.3" cy="494.8" r="1.85"/><circle cx="226.2" cy="544.1" r="1.85"/><circle cx="240.6" cy="436.8" r="1.85"/><circle cx="242.8" cy="518.0" r="1.85"/><circle cx="239.6" cy="506.4" r="1.85"/><circle cx="251.5" cy="451.3" r="1.85"/><circle cx="222.6" cy="558.6" r="1.85"/><circle cx="227.0" cy="442.6" r="1.85"/><circle cx="241.6" cy="494.8" r="1.85"/><circle cx="224.9" cy="515.1" r="1.85"/><circle cx="220.7" cy="457.1" r="1.85"/><circle cx="223.5" cy="462.9" r="1.85"/><circle cx="246.1" cy="451.3" r="1.85"/><circle cx="248.4" cy="465.8" r="1.85"/><circle cx="243.8" cy="561.5" r="1.85"/><circle cx="253.8" cy="480.3" r="1.85"/><circle cx="247.0" cy="529.6" r="1.85"/><circle cx="227.0" cy="451.3" r="1.85"/><circle cx="227.2" cy="433.9" r="1.85"/><circle cx="244.0" cy="454.2" r="1.85"/><circle cx="216.4" cy="549.9" r="1.85"/><circle cx="239.4" cy="541.2" r="1.85"/><circle cx="217.8" cy="547.0" r="1.85"/><circle cx="216.2" cy="518.0" r="1.85"/><circle cx="235.4" cy="523.8" r="1.85"/><circle cx="220.4" cy="439.7" r="1.85"/><circle cx="252.7" cy="555.7" r="1.85"/><circle cx="250.5" cy="538.3" r="1.85"/><circle cx="233.3" cy="462.9" r="1.85"/><circle cx="222.3" cy="497.7" r="1.85"/><circle cx="219.1" cy="460.0" r="1.85"/><circle cx="235.1" cy="433.9" r="1.85"/><circle cx="235.7" cy="509.3" r="1.85"/><circle cx="229.2" cy="454.2" r="1.85"/><circle cx="243.8" cy="564.4" r="1.85"/><circle cx="236.1" cy="436.8" r="1.85"/><circle cx="246.2" cy="564.4" r="1.85"/><circle cx="218.5" cy="454.2" r="1.85"/><circle cx="217.0" cy="477.4" r="1.85"/><circle cx="230.2" cy="486.1" r="1.85"/><circle cx="234.2" cy="460.0" r="1.85"/><circle cx="224.6" cy="433.9" r="1.85"/><circle cx="241.8" cy="433.9" r="1.85"/><circle cx="223.3" cy="520.9" r="1.85"/><circle cx="227.3" cy="547.0" r="1.85"/><circle cx="233.9" cy="448.4" r="1.85"/><circle cx="243.6" cy="436.8" r="1.85"/><circle cx="246.0" cy="465.8" r="1.85"/><circle cx="229.5" cy="445.5" r="1.85"/><circle cx="232.6" cy="494.8" r="1.85"/><circle cx="268.8" cy="498.6" r="1.85"/><circle cx="268.7" cy="498.6" r="1.85"/><circle cx="296.6" cy="498.4" r="1.85"/><circle cx="274.1" cy="498.2" r="1.85"/><circle cx="285.0" cy="498.4" r="1.85"/><circle cx="282.5" cy="498.5" r="1.85"/><circle cx="299.1" cy="498.3" r="1.85"/><circle cx="305.4" cy="498.2" r="1.85"/><circle cx="278.7" cy="498.6" r="1.85"/><circle cx="292.1" cy="498.6" r="1.85"/><circle cx="303.0" cy="498.3" r="1.85"/><circle cx="285.4" cy="498.4" r="1.85"/><circle cx="303.2" cy="507.0" r="1.85"/><circle cx="296.3" cy="506.9" r="1.85"/><circle cx="278.8" cy="506.8" r="1.85"/><circle cx="302.1" cy="507.1" r="1.85"/><circle cx="289.6" cy="507.1" r="1.85"/><circle cx="270.3" cy="507.0" r="1.85"/><circle cx="290.2" cy="498.4" r="1.85"/><circle cx="300.2" cy="498.4" r="1.85"/><circle cx="287.4" cy="498.4" r="1.85"/><circle cx="285.9" cy="530.3" r="1.85"/><circle cx="283.1" cy="498.4" r="1.85"/><circle cx="302.4" cy="507.1" r="1.85"/><circle cx="293.5" cy="530.3" r="1.85"/><circle cx="274.5" cy="501.3" r="1.85"/><circle cx="280.9" cy="518.7" r="1.85"/><circle cx="280.9" cy="510.0" r="1.85"/><circle cx="305.6" cy="530.3" r="1.85"/><circle cx="294.7" cy="501.3" r="1.85"/><circle cx="271.1" cy="562.2" r="1.85"/><circle cx="303.8" cy="527.4" r="1.85"/><circle cx="267.3" cy="536.1" r="1.85"/><circle cx="290.4" cy="524.5" r="1.85"/><circle cx="283.8" cy="530.3" r="1.85"/><circle cx="295.6" cy="498.4" r="1.85"/><circle cx="283.7" cy="498.4" r="1.85"/><circle cx="269.7" cy="510.0" r="1.85"/><circle cx="287.6" cy="507.1" r="1.85"/><circle cx="299.9" cy="530.3" r="1.85"/><circle cx="298.6" cy="536.1" r="1.85"/><circle cx="280.7" cy="501.3" r="1.85"/><circle cx="275.1" cy="512.9" r="1.85"/><circle cx="296.7" cy="524.5" r="1.85"/><circle cx="299.1" cy="547.7" r="1.85"/><circle cx="275.0" cy="498.4" r="1.85"/><circle cx="302.5" cy="562.2" r="1.85"/><circle cx="307.0" cy="536.1" r="1.85"/><circle cx="283.9" cy="556.4" r="1.85"/><circle cx="281.7" cy="510.0" r="1.85"/><circle cx="295.3" cy="518.7" r="1.85"/><circle cx="304.4" cy="515.8" r="1.85"/><circle cx="274.3" cy="501.3" r="1.85"/><circle cx="278.4" cy="521.6" r="1.85"/><circle cx="279.5" cy="553.5" r="1.85"/><circle cx="296.2" cy="498.4" r="1.85"/><circle cx="273.6" cy="565.1" r="1.85"/><circle cx="288.5" cy="553.5" r="1.85"/><circle cx="286.6" cy="533.2" r="1.85"/><circle cx="293.6" cy="539.0" r="1.85"/><circle cx="271.8" cy="530.3" r="1.85"/><circle cx="305.5" cy="518.7" r="1.85"/><circle cx="307.3" cy="539.0" r="1.85"/><circle cx="289.1" cy="559.3" r="1.85"/><circle cx="298.8" cy="530.3" r="1.85"/><circle cx="273.5" cy="553.5" r="1.85"/><circle cx="303.6" cy="550.6" r="1.85"/><circle cx="288.7" cy="498.4" r="1.85"/><circle cx="297.4" cy="521.6" r="1.85"/><circle cx="301.9" cy="501.3" r="1.85"/><circle cx="280.9" cy="559.3" r="1.85"/><circle cx="304.2" cy="510.0" r="1.85"/><circle cx="274.5" cy="512.9" r="1.85"/><circle cx="266.9" cy="515.8" r="1.85"/><circle cx="286.7" cy="533.2" r="1.85"/><circle cx="329.1" cy="510.2" r="1.85"/><circle cx="331.4" cy="510.2" r="1.85"/><circle cx="351.7" cy="510.2" r="1.85"/><circle cx="324.3" cy="510.0" r="1.85"/><circle cx="346.2" cy="510.2" r="1.85"/><circle cx="318.6" cy="510.0" r="1.85"/><circle cx="325.7" cy="509.9" r="1.85"/><circle cx="320.1" cy="510.1" r="1.85"/><circle cx="351.0" cy="510.1" r="1.85"/><circle cx="323.7" cy="510.0" r="1.85"/><circle cx="327.1" cy="510.0" r="1.85"/><circle cx="320.0" cy="509.9" r="1.85"/><circle cx="328.6" cy="518.5" r="1.85"/><circle cx="348.0" cy="518.6" r="1.85"/><circle cx="347.5" cy="518.6" r="1.85"/><circle cx="355.4" cy="518.6" r="1.85"/><circle cx="356.9" cy="518.4" r="1.85"/><circle cx="340.5" cy="518.4" r="1.85"/><circle cx="355.8" cy="515.8" r="1.85"/><circle cx="321.4" cy="541.9" r="1.85"/><circle cx="356.0" cy="518.7" r="1.85"/><circle cx="335.6" cy="515.8" r="1.85"/><circle cx="325.7" cy="541.9" r="1.85"/><circle cx="348.6" cy="556.4" r="1.85"/><circle cx="353.2" cy="556.4" r="1.85"/><circle cx="333.6" cy="544.8" r="1.85"/><circle cx="321.5" cy="565.1" r="1.85"/><circle cx="353.8" cy="510.0" r="1.85"/><circle cx="348.9" cy="524.5" r="1.85"/><circle cx="342.4" cy="510.0" r="1.85"/><circle cx="358.1" cy="539.0" r="1.85"/><circle cx="319.2" cy="533.2" r="1.85"/><circle cx="320.0" cy="544.8" r="1.85"/><circle cx="322.8" cy="541.9" r="1.85"/><circle cx="318.6" cy="521.6" r="1.85"/><circle cx="347.0" cy="533.2" r="1.85"/><circle cx="343.8" cy="521.6" r="1.85"/><circle cx="322.3" cy="524.5" r="1.85"/><circle cx="324.4" cy="521.6" r="1.85"/><circle cx="325.2" cy="527.4" r="1.85"/><circle cx="342.9" cy="530.3" r="1.85"/><circle cx="345.5" cy="550.6" r="1.85"/><circle cx="357.8" cy="550.6" r="1.85"/><circle cx="332.6" cy="515.8" r="1.85"/><circle cx="358.2" cy="521.6" r="1.85"/><circle cx="335.7" cy="510.0" r="1.85"/><circle cx="333.9" cy="547.7" r="1.85"/><circle cx="328.2" cy="530.3" r="1.85"/><circle cx="327.3" cy="533.2" r="1.85"/><circle cx="358.0" cy="527.4" r="1.85"/><circle cx="358.9" cy="553.5" r="1.85"/><circle cx="346.9" cy="510.0" r="1.85"/><circle cx="324.9" cy="544.8" r="1.85"/><circle cx="325.1" cy="565.1" r="1.85"/><circle cx="324.0" cy="530.3" r="1.85"/><circle cx="332.2" cy="518.7" r="1.85"/><circle cx="348.2" cy="559.3" r="1.85"/><circle cx="320.1" cy="539.0" r="1.85"/><circle cx="339.6" cy="536.1" r="1.85"/><circle cx="345.9" cy="553.5" r="1.85"/><circle cx="319.1" cy="544.8" r="1.85"/><circle cx="335.9" cy="550.6" r="1.85"/><circle cx="350.4" cy="527.4" r="1.85"/><circle cx="341.5" cy="510.0" r="1.85"/><circle cx="336.4" cy="539.0" r="1.85"/><circle cx="354.2" cy="518.7" r="1.85"/><circle cx="342.6" cy="530.3" r="1.85"/><circle cx="331.6" cy="544.8" r="1.85"/><circle cx="334.1" cy="536.1" r="1.85"/><circle cx="356.7" cy="550.6" r="1.85"/><circle cx="353.3" cy="518.7" r="1.85"/><circle cx="355.5" cy="559.3" r="1.85"/><circle cx="340.9" cy="518.7" r="1.85"/><circle cx="323.6" cy="530.3" r="1.85"/><circle cx="324.9" cy="550.6" r="1.85"/><circle cx="333.5" cy="576.4" r="1.85"/><circle cx="346.3" cy="587.8" r="1.85"/><circle cx="392.4" cy="360.2" r="1.85"/><circle cx="386.2" cy="360.5" r="1.85"/><circle cx="376.4" cy="360.5" r="1.85"/><circle cx="375.1" cy="360.4" r="1.85"/><circle cx="388.9" cy="360.2" r="1.85"/><circle cx="389.8" cy="360.5" r="1.85"/><circle cx="380.5" cy="360.4" r="1.85"/><circle cx="384.7" cy="360.5" r="1.85"/><circle cx="392.4" cy="360.4" r="1.85"/><circle cx="401.0" cy="360.5" r="1.85"/><circle cx="393.8" cy="360.4" r="1.85"/><circle cx="376.1" cy="360.6" r="1.85"/><circle cx="406.1" cy="369.2" r="1.85"/><circle cx="384.7" cy="369.2" r="1.85"/><circle cx="409.2" cy="369.0" r="1.85"/><circle cx="410.1" cy="368.9" r="1.85"/><circle cx="375.2" cy="369.0" r="1.85"/><circle cx="393.5" cy="368.9" r="1.85"/><circle cx="409.5" cy="421.3" r="1.85"/><circle cx="385.4" cy="424.2" r="1.85"/><circle cx="392.1" cy="418.4" r="1.85"/><circle cx="382.4" cy="372.0" r="1.85"/><circle cx="370.6" cy="374.9" r="1.85"/><circle cx="377.9" cy="372.0" r="1.85"/><circle cx="374.6" cy="380.7" r="1.85"/><circle cx="381.2" cy="398.1" r="1.85"/><circle cx="395.5" cy="421.3" r="1.85"/><circle cx="392.7" cy="372.0" r="1.85"/><circle cx="408.7" cy="395.2" r="1.85"/><circle cx="397.8" cy="409.7" r="1.85"/><circle cx="384.4" cy="398.1" r="1.85"/><circle cx="408.7" cy="398.1" r="1.85"/><circle cx="395.7" cy="374.9" r="1.85"/><circle cx="391.9" cy="409.7" r="1.85"/><circle cx="405.1" cy="403.9" r="1.85"/><circle cx="397.2" cy="418.4" r="1.85"/><circle cx="384.3" cy="366.2" r="1.85"/><circle cx="394.5" cy="403.9" r="1.85"/><circle cx="381.9" cy="403.9" r="1.85"/><circle cx="409.6" cy="395.2" r="1.85"/><circle cx="379.5" cy="430.0" r="1.85"/><circle cx="409.7" cy="386.5" r="1.85"/><circle cx="372.1" cy="421.3" r="1.85"/><circle cx="369.8" cy="395.2" r="1.85"/><circle cx="392.3" cy="395.2" r="1.85"/><circle cx="377.9" cy="377.8" r="1.85"/><circle cx="390.4" cy="401.0" r="1.85"/><circle cx="374.3" cy="398.1" r="1.85"/><circle cx="404.1" cy="412.6" r="1.85"/><circle cx="397.1" cy="401.0" r="1.85"/><circle cx="397.8" cy="406.8" r="1.85"/><circle cx="407.8" cy="372.0" r="1.85"/><circle cx="410.5" cy="366.2" r="1.85"/><circle cx="397.5" cy="363.3" r="1.85"/><circle cx="399.0" cy="398.1" r="1.85"/><circle cx="369.5" cy="386.5" r="1.85"/><circle cx="371.5" cy="421.3" r="1.85"/><circle cx="387.1" cy="372.0" r="1.85"/><circle cx="409.6" cy="374.9" r="1.85"/><circle cx="382.4" cy="401.0" r="1.85"/><circle cx="393.0" cy="374.9" r="1.85"/><circle cx="369.8" cy="374.9" r="1.85"/><circle cx="386.6" cy="409.7" r="1.85"/><circle cx="406.8" cy="403.9" r="1.85"/><circle cx="393.8" cy="403.9" r="1.85"/><circle cx="403.6" cy="415.5" r="1.85"/><circle cx="370.0" cy="421.3" r="1.85"/><circle cx="377.8" cy="412.6" r="1.85"/><circle cx="376.8" cy="409.7" r="1.85"/><circle cx="403.9" cy="360.4" r="1.85"/><circle cx="373.6" cy="418.4" r="1.85"/><circle cx="408.0" cy="403.9" r="1.85"/><circle cx="380.5" cy="392.3" r="1.85"/><circle cx="405.9" cy="427.1" r="1.85"/><circle cx="390.8" cy="374.9" r="1.85"/><circle cx="382.8" cy="450.7" r="1.85"/><circle cx="409.4" cy="452.2" r="1.85"/><circle cx="386.2" cy="453.7" r="1.85"/><circle cx="398.3" cy="455.2" r="1.85"/><circle cx="451.1" cy="387.6" r="1.85"/><circle cx="435.6" cy="387.9" r="1.85"/><circle cx="450.0" cy="388.0" r="1.85"/><circle cx="436.4" cy="387.6" r="1.85"/><circle cx="450.7" cy="387.9" r="1.85"/><circle cx="432.7" cy="387.7" r="1.85"/><circle cx="461.7" cy="387.7" r="1.85"/><circle cx="439.3" cy="387.7" r="1.85"/><circle cx="421.3" cy="387.9" r="1.85"/><circle cx="425.0" cy="388.0" r="1.85"/><circle cx="451.3" cy="388.0" r="1.85"/><circle cx="457.0" cy="388.0" r="1.85"/><circle cx="447.6" cy="396.4" r="1.85"/><circle cx="427.6" cy="396.5" r="1.85"/><circle cx="457.3" cy="396.3" r="1.85"/><circle cx="450.9" cy="396.5" r="1.85"/><circle cx="426.0" cy="396.4" r="1.85"/><circle cx="436.9" cy="396.3" r="1.85"/><circle cx="449.0" cy="454.5" r="1.85"/><circle cx="421.3" cy="411.0" r="1.85"/><circle cx="422.9" cy="399.4" r="1.85"/><circle cx="435.8" cy="451.6" r="1.85"/><circle cx="457.4" cy="434.2" r="1.85"/><circle cx="462.4" cy="428.4" r="1.85"/><circle cx="434.4" cy="416.8" r="1.85"/><circle cx="458.8" cy="387.8" r="1.85"/><circle cx="453.7" cy="393.6" r="1.85"/><circle cx="457.0" cy="393.6" r="1.85"/><circle cx="445.5" cy="413.9" r="1.85"/><circle cx="461.3" cy="428.4" r="1.85"/><circle cx="447.9" cy="393.6" r="1.85"/><circle cx="460.4" cy="396.5" r="1.85"/><circle cx="444.6" cy="463.2" r="1.85"/><circle cx="429.3" cy="442.9" r="1.85"/><circle cx="442.7" cy="451.6" r="1.85"/><circle cx="441.2" cy="387.8" r="1.85"/><circle cx="435.2" cy="413.9" r="1.85"/><circle cx="436.7" cy="460.3" r="1.85"/><circle cx="442.3" cy="402.3" r="1.85"/><circle cx="445.5" cy="454.5" r="1.85"/><circle cx="430.4" cy="408.1" r="1.85"/><circle cx="432.7" cy="390.7" r="1.85"/><circle cx="442.0" cy="460.3" r="1.85"/><circle cx="442.1" cy="413.9" r="1.85"/><circle cx="438.5" cy="390.7" r="1.85"/><circle cx="448.7" cy="451.6" r="1.85"/><circle cx="428.9" cy="448.7" r="1.85"/><circle cx="443.2" cy="425.5" r="1.85"/><circle cx="432.6" cy="387.8" r="1.85"/><circle cx="453.1" cy="463.2" r="1.85"/><circle cx="450.3" cy="396.5" r="1.85"/><circle cx="453.5" cy="434.2" r="1.85"/><circle cx="442.6" cy="387.8" r="1.85"/><circle cx="431.5" cy="387.8" r="1.85"/><circle cx="459.5" cy="419.7" r="1.85"/><circle cx="442.3" cy="387.8" r="1.85"/><circle cx="436.7" cy="457.4" r="1.85"/><circle cx="433.2" cy="396.5" r="1.85"/><circle cx="437.8" cy="405.2" r="1.85"/><circle cx="450.5" cy="460.3" r="1.85"/><circle cx="455.1" cy="413.9" r="1.85"/><circle cx="441.2" cy="445.8" r="1.85"/><circle cx="451.5" cy="448.7" r="1.85"/><circle cx="430.0" cy="431.3" r="1.85"/><circle cx="439.9" cy="396.5" r="1.85"/><circle cx="436.0" cy="440.0" r="1.85"/><circle cx="433.9" cy="390.7" r="1.85"/><circle cx="436.1" cy="463.2" r="1.85"/><circle cx="452.4" cy="402.3" r="1.85"/><circle cx="451.6" cy="396.5" r="1.85"/><circle cx="429.8" cy="466.1" r="1.85"/><circle cx="430.9" cy="445.8" r="1.85"/><circle cx="453.7" cy="477.7" r="1.85"/><circle cx="448.3" cy="387.8" r="1.85"/><circle cx="449.2" cy="387.8" r="1.85"/><circle cx="512.5" cy="475.5" r="1.85"/><circle cx="488.2" cy="475.5" r="1.85"/><circle cx="477.7" cy="475.3" r="1.85"/><circle cx="500.1" cy="475.2" r="1.85"/><circle cx="495.0" cy="475.3" r="1.85"/><circle cx="486.5" cy="475.2" r="1.85"/><circle cx="486.6" cy="475.6" r="1.85"/><circle cx="507.9" cy="475.4" r="1.85"/><circle cx="487.0" cy="475.5" r="1.85"/><circle cx="490.2" cy="475.6" r="1.85"/><circle cx="512.6" cy="475.5" r="1.85"/><circle cx="487.9" cy="475.3" r="1.85"/><circle cx="489.6" cy="483.9" r="1.85"/><circle cx="479.7" cy="483.8" r="1.85"/><circle cx="500.4" cy="484.1" r="1.85"/><circle cx="500.5" cy="484.1" r="1.85"/><circle cx="491.4" cy="484.0" r="1.85"/><circle cx="489.8" cy="483.9" r="1.85"/><circle cx="482.6" cy="484.1" r="1.85"/><circle cx="505.7" cy="527.6" r="1.85"/><circle cx="491.9" cy="527.6" r="1.85"/><circle cx="507.4" cy="492.8" r="1.85"/><circle cx="488.5" cy="478.3" r="1.85"/><circle cx="503.3" cy="487.0" r="1.85"/><circle cx="474.1" cy="481.2" r="1.85"/><circle cx="482.0" cy="510.2" r="1.85"/><circle cx="512.7" cy="527.6" r="1.85"/><circle cx="501.2" cy="489.9" r="1.85"/><circle cx="500.9" cy="510.2" r="1.85"/><circle cx="493.5" cy="475.4" r="1.85"/><circle cx="492.5" cy="492.8" r="1.85"/><circle cx="481.1" cy="507.3" r="1.85"/><circle cx="480.1" cy="478.3" r="1.85"/><circle cx="499.7" cy="489.9" r="1.85"/><circle cx="501.7" cy="498.6" r="1.85"/><circle cx="483.7" cy="481.2" r="1.85"/><circle cx="499.6" cy="504.4" r="1.85"/><circle cx="478.6" cy="475.4" r="1.85"/><circle cx="498.3" cy="507.3" r="1.85"/><circle cx="480.1" cy="481.2" r="1.85"/><circle cx="494.1" cy="507.3" r="1.85"/><circle cx="486.0" cy="516.0" r="1.85"/><circle cx="495.8" cy="487.0" r="1.85"/><circle cx="478.5" cy="481.2" r="1.85"/><circle cx="493.0" cy="516.0" r="1.85"/><circle cx="498.5" cy="487.0" r="1.85"/><circle cx="478.5" cy="484.1" r="1.85"/><circle cx="485.7" cy="498.6" r="1.85"/><circle cx="501.1" cy="475.4" r="1.85"/><circle cx="495.6" cy="481.2" r="1.85"/><circle cx="498.5" cy="484.1" r="1.85"/><circle cx="505.2" cy="489.9" r="1.85"/><circle cx="496.6" cy="524.7" r="1.85"/><circle cx="482.2" cy="481.2" r="1.85"/><circle cx="491.3" cy="501.5" r="1.85"/><circle cx="507.3" cy="478.3" r="1.85"/><circle cx="496.4" cy="484.1" r="1.85"/><circle cx="504.1" cy="527.6" r="1.85"/><circle cx="488.0" cy="492.8" r="1.85"/><circle cx="491.5" cy="501.5" r="1.85"/><circle cx="513.1" cy="481.2" r="1.85"/><circle cx="507.0" cy="501.5" r="1.85"/><circle cx="500.0" cy="478.3" r="1.85"/><circle cx="477.4" cy="489.9" r="1.85"/><circle cx="498.3" cy="478.3" r="1.85"/><circle cx="474.3" cy="492.8" r="1.85"/><circle cx="511.6" cy="492.8" r="1.85"/><circle cx="513.2" cy="516.0" r="1.85"/><circle cx="503.1" cy="504.4" r="1.85"/><circle cx="484.0" cy="495.7" r="1.85"/><circle cx="508.0" cy="498.6" r="1.85"/><circle cx="480.3" cy="481.2" r="1.85"/><circle cx="507.2" cy="492.8" r="1.85"/><circle cx="494.5" cy="516.0" r="1.85"/><circle cx="473.6" cy="487.0" r="1.85"/><circle cx="551.4" cy="372.4" r="1.85"/><circle cx="553.3" cy="372.2" r="1.85"/><circle cx="531.1" cy="372.3" r="1.85"/><circle cx="547.5" cy="372.3" r="1.85"/><circle cx="555.1" cy="372.2" r="1.85"/><circle cx="528.9" cy="372.3" r="1.85"/><circle cx="559.5" cy="372.1" r="1.85"/><circle cx="560.8" cy="372.4" r="1.85"/><circle cx="526.8" cy="372.1" r="1.85"/><circle cx="535.0" cy="372.0" r="1.85"/><circle cx="528.2" cy="372.1" r="1.85"/><circle cx="535.2" cy="372.0" r="1.85"/><circle cx="528.3" cy="380.6" r="1.85"/><circle cx="545.0" cy="380.8" r="1.85"/><circle cx="535.1" cy="380.6" r="1.85"/><circle cx="537.1" cy="380.7" r="1.85"/><circle cx="543.8" cy="380.7" r="1.85"/><circle cx="540.1" cy="380.7" r="1.85"/><circle cx="557.4" cy="450.5" r="1.85"/><circle cx="554.6" cy="453.4" r="1.85"/><circle cx="529.4" cy="415.7" r="1.85"/><circle cx="534.0" cy="380.9" r="1.85"/><circle cx="525.1" cy="441.8" r="1.85"/><circle cx="538.3" cy="401.2" r="1.85"/><circle cx="529.2" cy="436.0" r="1.85"/><circle cx="553.6" cy="447.6" r="1.85"/><circle cx="557.0" cy="386.7" r="1.85"/><circle cx="565.9" cy="412.8" r="1.85"/><circle cx="533.4" cy="407.0" r="1.85"/><circle cx="526.2" cy="424.4" r="1.85"/><circle cx="556.1" cy="447.6" r="1.85"/><circle cx="541.8" cy="386.7" r="1.85"/><circle cx="563.3" cy="407.0" r="1.85"/><circle cx="541.0" cy="380.9" r="1.85"/><circle cx="537.7" cy="409.9" r="1.85"/><circle cx="527.7" cy="404.1" r="1.85"/><circle cx="564.0" cy="441.8" r="1.85"/><circle cx="545.9" cy="427.3" r="1.85"/><circle cx="543.0" cy="395.4" r="1.85"/><circle cx="542.8" cy="438.9" r="1.85"/><circle cx="556.5" cy="409.9" r="1.85"/><circle cx="559.1" cy="380.9" r="1.85"/><circle cx="544.4" cy="409.9" r="1.85"/><circle cx="532.1" cy="421.5" r="1.85"/><circle cx="541.5" cy="427.3" r="1.85"/><circle cx="561.6" cy="418.6" r="1.85"/><circle cx="541.6" cy="386.7" r="1.85"/><circle cx="552.1" cy="407.0" r="1.85"/><circle cx="547.9" cy="407.0" r="1.85"/><circle cx="543.8" cy="404.1" r="1.85"/><circle cx="548.5" cy="424.4" r="1.85"/><circle cx="534.9" cy="436.0" r="1.85"/><circle cx="547.8" cy="438.9" r="1.85"/><circle cx="560.5" cy="383.8" r="1.85"/><circle cx="528.0" cy="380.9" r="1.85"/><circle cx="540.0" cy="441.8" r="1.85"/><circle cx="561.2" cy="430.2" r="1.85"/><circle cx="565.2" cy="453.4" r="1.85"/><circle cx="525.3" cy="401.2" r="1.85"/><circle cx="550.7" cy="409.9" r="1.85"/><circle cx="550.9" cy="398.3" r="1.85"/><circle cx="559.6" cy="430.2" r="1.85"/><circle cx="544.2" cy="398.3" r="1.85"/><circle cx="530.1" cy="407.0" r="1.85"/><circle cx="537.1" cy="409.9" r="1.85"/><circle cx="554.2" cy="409.9" r="1.85"/><circle cx="554.9" cy="418.6" r="1.85"/><circle cx="533.2" cy="421.5" r="1.85"/><circle cx="551.3" cy="375.1" r="1.85"/><circle cx="551.9" cy="409.9" r="1.85"/><circle cx="552.0" cy="383.8" r="1.85"/><circle cx="525.6" cy="386.7" r="1.85"/><circle cx="543.0" cy="389.6" r="1.85"/><circle cx="538.2" cy="427.3" r="1.85"/><circle cx="549.4" cy="404.1" r="1.85"/><circle cx="538.7" cy="474.9" r="1.85"/><circle cx="596.2" cy="321.2" r="1.85"/><circle cx="603.4" cy="321.4" r="1.85"/><circle cx="604.9" cy="321.2" r="1.85"/><circle cx="578.3" cy="321.4" r="1.85"/><circle cx="584.4" cy="321.2" r="1.85"/><circle cx="616.2" cy="321.3" r="1.85"/><circle cx="592.7" cy="321.4" r="1.85"/><circle cx="594.1" cy="321.1" r="1.85"/><circle cx="592.0" cy="321.4" r="1.85"/><circle cx="605.3" cy="321.1" r="1.85"/><circle cx="607.1" cy="321.5" r="1.85"/><circle cx="603.4" cy="321.1" r="1.85"/><circle cx="593.1" cy="330.0" r="1.85"/><circle cx="600.1" cy="329.8" r="1.85"/><circle cx="597.8" cy="329.8" r="1.85"/><circle cx="584.3" cy="329.9" r="1.85"/><circle cx="615.8" cy="329.9" r="1.85"/><circle cx="616.4" cy="329.9" r="1.85"/><circle cx="608.7" cy="338.7" r="1.85"/><circle cx="617.6" cy="332.9" r="1.85"/><circle cx="595.8" cy="359.0" r="1.85"/><circle cx="611.2" cy="332.9" r="1.85"/><circle cx="586.4" cy="338.7" r="1.85"/><circle cx="607.2" cy="396.7" r="1.85"/><circle cx="606.1" cy="388.0" r="1.85"/><circle cx="615.3" cy="332.9" r="1.85"/><circle cx="611.0" cy="373.5" r="1.85"/><circle cx="612.9" cy="338.7" r="1.85"/><circle cx="587.6" cy="388.0" r="1.85"/><circle cx="609.1" cy="338.7" r="1.85"/><circle cx="596.2" cy="373.5" r="1.85"/><circle cx="589.4" cy="388.0" r="1.85"/><circle cx="591.7" cy="359.0" r="1.85"/><circle cx="609.6" cy="327.1" r="1.85"/><circle cx="611.4" cy="390.9" r="1.85"/><circle cx="611.5" cy="417.0" r="1.85"/><circle cx="604.2" cy="321.3" r="1.85"/><circle cx="583.5" cy="330.0" r="1.85"/><circle cx="582.9" cy="376.4" r="1.85"/><circle cx="600.0" cy="350.3" r="1.85"/><circle cx="585.3" cy="344.5" r="1.85"/><circle cx="590.4" cy="341.6" r="1.85"/><circle cx="580.7" cy="332.9" r="1.85"/><circle cx="582.9" cy="338.7" r="1.85"/><circle cx="606.2" cy="335.8" r="1.85"/><circle cx="585.7" cy="353.2" r="1.85"/><circle cx="611.6" cy="335.8" r="1.85"/><circle cx="590.1" cy="324.2" r="1.85"/><circle cx="611.6" cy="321.3" r="1.85"/><circle cx="589.0" cy="364.8" r="1.85"/><circle cx="587.6" cy="379.3" r="1.85"/><circle cx="592.8" cy="324.2" r="1.85"/><circle cx="577.0" cy="417.0" r="1.85"/><circle cx="594.5" cy="338.7" r="1.85"/><circle cx="592.2" cy="338.7" r="1.85"/><circle cx="577.0" cy="338.7" r="1.85"/><circle cx="612.2" cy="341.6" r="1.85"/><circle cx="592.0" cy="379.3" r="1.85"/><circle cx="576.5" cy="402.5" r="1.85"/><circle cx="616.2" cy="344.5" r="1.85"/><circle cx="585.9" cy="361.9" r="1.85"/><circle cx="587.0" cy="393.8" r="1.85"/><circle cx="577.5" cy="373.5" r="1.85"/><circle cx="580.6" cy="332.9" r="1.85"/><circle cx="605.9" cy="434.4" r="1.85"/><circle cx="600.6" cy="388.0" r="1.85"/><circle cx="597.3" cy="408.3" r="1.85"/><circle cx="586.7" cy="332.9" r="1.85"/><circle cx="588.3" cy="422.8" r="1.85"/><circle cx="616.6" cy="347.4" r="1.85"/><circle cx="591.9" cy="382.2" r="1.85"/><circle cx="617.4" cy="338.7" r="1.85"/><circle cx="613.2" cy="338.7" r="1.85"/><circle cx="581.6" cy="379.3" r="1.85"/><circle cx="611.6" cy="379.3" r="1.85"/><circle cx="628.8" cy="432.3" r="1.85"/><circle cx="641.5" cy="432.6" r="1.85"/><circle cx="664.5" cy="432.6" r="1.85"/><circle cx="630.7" cy="432.6" r="1.85"/><circle cx="661.0" cy="432.5" r="1.85"/><circle cx="629.5" cy="432.6" r="1.85"/><circle cx="655.1" cy="432.4" r="1.85"/><circle cx="661.4" cy="432.5" r="1.85"/><circle cx="638.1" cy="432.4" r="1.85"/><circle cx="644.0" cy="432.5" r="1.85"/><circle cx="637.6" cy="432.4" r="1.85"/><circle cx="657.4" cy="432.6" r="1.85"/><circle cx="650.1" cy="441.1" r="1.85"/><circle cx="653.3" cy="441.2" r="1.85"/><circle cx="641.7" cy="441.2" r="1.85"/><circle cx="652.5" cy="441.1" r="1.85"/><circle cx="667.8" cy="441.3" r="1.85"/><circle cx="660.5" cy="441.2" r="1.85"/><circle cx="667.6" cy="447.0" r="1.85"/><circle cx="638.5" cy="461.5" r="1.85"/><circle cx="649.6" cy="435.4" r="1.85"/><circle cx="644.2" cy="478.9" r="1.85"/><circle cx="642.6" cy="470.2" r="1.85"/><circle cx="661.5" cy="473.1" r="1.85"/><circle cx="635.5" cy="447.0" r="1.85"/><circle cx="651.4" cy="461.5" r="1.85"/><circle cx="660.3" cy="435.4" r="1.85"/><circle cx="667.0" cy="458.6" r="1.85"/><circle cx="629.0" cy="476.0" r="1.85"/><circle cx="639.4" cy="441.2" r="1.85"/><circle cx="648.7" cy="447.0" r="1.85"/><circle cx="667.0" cy="478.9" r="1.85"/><circle cx="635.0" cy="452.8" r="1.85"/><circle cx="663.1" cy="458.6" r="1.85"/><circle cx="644.7" cy="458.6" r="1.85"/><circle cx="650.9" cy="435.4" r="1.85"/><circle cx="666.7" cy="435.4" r="1.85"/><circle cx="630.9" cy="452.8" r="1.85"/><circle cx="641.9" cy="452.8" r="1.85"/><circle cx="634.7" cy="467.3" r="1.85"/><circle cx="633.8" cy="441.2" r="1.85"/><circle cx="640.8" cy="447.0" r="1.85"/><circle cx="657.3" cy="464.4" r="1.85"/><circle cx="652.3" cy="438.3" r="1.85"/><circle cx="633.3" cy="458.6" r="1.85"/><circle cx="661.4" cy="441.2" r="1.85"/><circle cx="649.2" cy="438.3" r="1.85"/><circle cx="634.2" cy="452.8" r="1.85"/><circle cx="662.2" cy="478.9" r="1.85"/><circle cx="662.2" cy="467.3" r="1.85"/><circle cx="637.2" cy="455.7" r="1.85"/><circle cx="667.1" cy="444.1" r="1.85"/><circle cx="661.8" cy="455.7" r="1.85"/><circle cx="637.7" cy="447.0" r="1.85"/><circle cx="628.3" cy="447.0" r="1.85"/><circle cx="664.2" cy="432.5" r="1.85"/><circle cx="662.4" cy="467.3" r="1.85"/><circle cx="632.3" cy="435.4" r="1.85"/><circle cx="660.0" cy="478.9" r="1.85"/><circle cx="660.3" cy="455.7" r="1.85"/><circle cx="654.5" cy="470.2" r="1.85"/><circle cx="662.7" cy="438.3" r="1.85"/><circle cx="669.0" cy="476.0" r="1.85"/><circle cx="641.8" cy="438.3" r="1.85"/><circle cx="662.8" cy="444.1" r="1.85"/><circle cx="666.4" cy="467.3" r="1.85"/><circle cx="641.2" cy="438.3" r="1.85"/><circle cx="656.5" cy="467.3" r="1.85"/><circle cx="656.6" cy="467.3" r="1.85"/><circle cx="663.4" cy="455.7" r="1.85"/><circle cx="651.7" cy="449.9" r="1.85"/><circle cx="639.7" cy="478.9" r="1.85"/><circle cx="638.7" cy="464.4" r="1.85"/><circle cx="650.7" cy="467.3" r="1.85"/><circle cx="633.8" cy="478.9" r="1.85"/><circle cx="663.8" cy="490.6" r="1.85"/><circle cx="665.1" cy="502.2" r="1.85"/><circle cx="638.3" cy="513.5" r="1.85"/><circle cx="657.1" cy="523.9" r="1.85"/></g><path d="M71.53 414.0H87.58M71.53 477.4H87.58M79.56 414.0V477.4" stroke="#222" stroke-width="1.2" fill="none"/><rect x="60.15" y="418.6" width="38.82" height="30.60" fill="#502f60" fill-opacity="0.76" stroke="#404040" stroke-width="1.0"/><line x1="79.56" x2="79.56" y1="419.1" y2="448.7" stroke="#111" stroke-width="1.3" stroke-opacity="0.9"/><line x1="60.15" x2="98.97" y1="427.2" y2="427.2" stroke="#2c2c2c" stroke-width="1.85"/><path d="M123.30 473.4H139.34M123.30 540.3H139.34M131.32 473.4V540.3" stroke="#222" stroke-width="1.2" fill="none"/><rect x="111.91" y="473.4" width="38.82" height="38.90" fill="#5b407d" fill-opacity="0.76" stroke="#404040" stroke-width="1.0"/><line x1="131.32" x2="131.32" y1="473.9" y2="511.79999999999995" stroke="#111" stroke-width="1.3" stroke-opacity="0.9"/><line x1="111.91" x2="150.73" y1="498.2" y2="498.2" stroke="#2c2c2c" stroke-width="1.85"/><path d="M175.06 434.7H191.11M175.06 530.4H191.11M183.08 434.7V530.4" stroke="#222" stroke-width="1.2" fill="none"/><rect x="163.67" y="434.7" width="38.82" height="55.10" fill="#5b5190" fill-opacity="0.76" stroke="#404040" stroke-width="1.0"/><line x1="183.08" x2="183.08" y1="435.2" y2="489.3" stroke="#111" stroke-width="1.3" stroke-opacity="0.9"/><line x1="163.67" x2="202.49" y1="441.8" y2="441.8" stroke="#2c2c2c" stroke-width="1.85"/><path d="M226.82 431.0H242.87M226.82 565.9H242.87M234.84 431.0V565.9" stroke="#222" stroke-width="1.2" fill="none"/><rect x="215.43" y="436.1" width="38.82" height="72.90" fill="#596597" fill-opacity="0.76" stroke="#404040" stroke-width="1.0"/><line x1="234.84" x2="234.84" y1="436.6" y2="508.5" stroke="#111" stroke-width="1.3" stroke-opacity="0.9"/><line x1="215.43" x2="254.26" y1="462.7" y2="462.7" stroke="#2c2c2c" stroke-width="1.85"/><path d="M278.58 498.4H294.63M278.58 566.3H294.63M286.61 498.4V566.3" stroke="#222" stroke-width="1.2" fill="none"/><rect x="267.20" y="498.4" width="38.82" height="28.10" fill="#577a98" fill-opacity="0.76" stroke="#404040" stroke-width="1.0"/><line x1="286.61" x2="286.61" y1="498.9" y2="526.0" stroke="#111" stroke-width="1.3" stroke-opacity="0.9"/><line x1="267.20" x2="306.02" y1="514.9" y2="514.9" stroke="#2c2c2c" stroke-width="1.85"/><path d="M330.35 510.0H346.39M330.35 567.1H346.39M338.37 510.0V567.1" stroke="#222" stroke-width="1.2" fill="none"/><rect x="318.96" y="512.1" width="38.82" height="25.20" fill="#589097" fill-opacity="0.76" stroke="#404040" stroke-width="1.0"/><line x1="338.37" x2="338.37" y1="512.6" y2="536.8" stroke="#111" stroke-width="1.3" stroke-opacity="0.9"/><line x1="318.96" x2="357.78" y1="524.6" y2="524.6" stroke="#2c2c2c" stroke-width="1.85"/><circle cx="338.37" cy="576.4" r="2" fill="#262626"/><circle cx="338.37" cy="587.8" r="2" fill="#262626"/><path d="M382.11 360.4H398.15M382.11 430.6H398.15M390.13 360.4V430.6" stroke="#222" stroke-width="1.2" fill="none"/><rect x="370.72" y="372.6" width="38.82" height="24.60" fill="#61a494" fill-opacity="0.76" stroke="#404040" stroke-width="1.0"/><line x1="390.13" x2="390.13" y1="373.1" y2="396.7" stroke="#111" stroke-width="1.3" stroke-opacity="0.9"/><line x1="370.72" x2="409.54" y1="375.3" y2="375.3" stroke="#2c2c2c" stroke-width="1.85"/><circle cx="390.13" cy="450.7" r="2" fill="#262626"/><circle cx="390.13" cy="452.2" r="2" fill="#262626"/><circle cx="390.13" cy="453.7" r="2" fill="#262626"/><circle cx="390.13" cy="455.2" r="2" fill="#262626"/><path d="M433.87 387.8H449.92M433.87 487.5H449.92M441.89 387.8V487.5" stroke="#222" stroke-width="1.2" fill="none"/><rect x="422.48" y="387.8" width="38.82" height="58.20" fill="#6abb8b" fill-opacity="0.76" stroke="#404040" stroke-width="1.0"/><line x1="441.89" x2="441.89" y1="388.3" y2="445.5" stroke="#111" stroke-width="1.3" stroke-opacity="0.9"/><line x1="422.48" x2="461.30" y1="415.0" y2="415.0" stroke="#2c2c2c" stroke-width="1.85"/><path d="M485.63 475.4H501.68M485.63 532.3H501.68M493.66 475.4V532.3" stroke="#222" stroke-width="1.2" fill="none"/><rect x="474.24" y="479.4" width="38.82" height="21.30" fill="#77c27a" fill-opacity="0.76" stroke="#404040" stroke-width="1.0"/><line x1="493.66" x2="493.66" y1="479.9" y2="500.2" stroke="#111" stroke-width="1.3" stroke-opacity="0.9"/><line x1="474.24" x2="513.07" y1="488.5" y2="488.5" stroke="#2c2c2c" stroke-width="1.85"/><path d="M537.39 372.2H553.44M537.39 454.2H553.44M545.42 372.2V454.2" stroke="#222" stroke-width="1.2" fill="none"/><rect x="526.01" y="379.0" width="38.82" height="38.30" fill="#a4d069" fill-opacity="0.76" stroke="#404040" stroke-width="1.0"/><line x1="545.42" x2="545.42" y1="379.5" y2="416.8" stroke="#111" stroke-width="1.3" stroke-opacity="0.9"/><line x1="526.01" x2="564.83" y1="402.9" y2="402.9" stroke="#2c2c2c" stroke-width="1.85"/><circle cx="545.42" cy="474.9" r="2" fill="#262626"/><path d="M589.16 321.3H605.20M589.16 436.2H605.20M597.18 321.3V436.2" stroke="#222" stroke-width="1.2" fill="none"/><rect x="577.77" y="333.5" width="38.82" height="42.60" fill="#ccdd5e" fill-opacity="0.76" stroke="#404040" stroke-width="1.0"/><line x1="597.18" x2="597.18" y1="334.0" y2="375.6" stroke="#111" stroke-width="1.3" stroke-opacity="0.9"/><line x1="577.77" x2="616.59" y1="345.0" y2="345.0" stroke="#2c2c2c" stroke-width="1.85"/><path d="M640.92 432.5H656.97M640.92 479.5H656.97M648.94 432.5V479.5" stroke="#222" stroke-width="1.2" fill="none"/><rect x="629.53" y="437.4" width="38.82" height="17.30" fill="#f7e25e" fill-opacity="0.76" stroke="#404040" stroke-width="1.0"/><line x1="648.94" x2="648.94" y1="437.9" y2="454.2" stroke="#111" stroke-width="1.3" stroke-opacity="0.9"/><line x1="629.53" x2="668.35" y1="441.7" y2="441.7" stroke="#2c2c2c" stroke-width="1.85"/><circle cx="648.94" cy="490.6" r="2" fill="#262626"/><circle cx="648.94" cy="502.2" r="2" fill="#262626"/><circle cx="648.94" cy="513.5" r="2" fill="#262626"/><circle cx="648.94" cy="523.9" r="2" fill="#262626"/><rect x="48.5" y="308.5" width="631.5" height="292.5" fill="none" stroke="#c4c4c4" stroke-width="1.05"/><line x1="46.0" x2="48.5" y1="515.40" y2="515.40" stroke="#b3b3b3" stroke-width="1"/><text transform="translate(44.80,519.65) scale(1,1.1)" text-anchor="end" font-size="11.5" fill="#4d4d4d">1.0</text><line x1="46.0" x2="48.5" y1="420.40" y2="420.40" stroke="#b3b3b3" stroke-width="1"/><text transform="translate(44.80,424.65) scale(1,1.1)" text-anchor="end" font-size="11.5" fill="#4d4d4d">1.5</text><line x1="46.0" x2="48.5" y1="325.40" y2="325.40" stroke="#b3b3b3" stroke-width="1"/><text transform="translate(44.80,329.65) scale(1,1.1)" text-anchor="end" font-size="11.5" fill="#4d4d4d">2.0</text><line x1="79.56" x2="79.56" y1="601.0" y2="603.5" stroke="#b3b3b3" stroke-width="1"/><line x1="131.32" x2="131.32" y1="601.0" y2="603.5" stroke="#b3b3b3" stroke-width="1"/><line x1="183.08" x2="183.08" y1="601.0" y2="603.5" stroke="#b3b3b3" stroke-width="1"/><line x1="234.84" x2="234.84" y1="601.0" y2="603.5" stroke="#b3b3b3" stroke-width="1"/><line x1="286.61" x2="286.61" y1="601.0" y2="603.5" stroke="#b3b3b3" stroke-width="1"/><line x1="338.37" x2="338.37" y1="601.0" y2="603.5" stroke="#b3b3b3" stroke-width="1"/><line x1="390.13" x2="390.13" y1="601.0" y2="603.5" stroke="#b3b3b3" stroke-width="1"/><line x1="441.89" x2="441.89" y1="601.0" y2="603.5" stroke="#b3b3b3" stroke-width="1"/><line x1="493.66" x2="493.66" y1="601.0" y2="603.5" stroke="#b3b3b3" stroke-width="1"/><line x1="545.42" x2="545.42" y1="601.0" y2="603.5" stroke="#b3b3b3" stroke-width="1"/><line x1="597.18" x2="597.18" y1="601.0" y2="603.5" stroke="#b3b3b3" stroke-width="1"/><line x1="648.94" x2="648.94" y1="601.0" y2="603.5" stroke="#b3b3b3" stroke-width="1"/><text transform="translate(83.16,646.5) rotate(-60)" text-anchor="middle" font-size="11.5" fill="#4d4d4d">Asaphida</text><text transform="translate(134.92,646.5) rotate(-60)" text-anchor="middle" font-size="11.5" fill="#4d4d4d">Aulacopleurida</text><text transform="translate(186.68,646.5) rotate(-60)" text-anchor="middle" font-size="11.5" fill="#4d4d4d">Corynexochida</text><text transform="translate(238.44,646.5) rotate(-60)" text-anchor="middle" font-size="11.5" fill="#4d4d4d">Harpida</text><text transform="translate(290.21,646.5) rotate(-60)" text-anchor="middle" font-size="11.5" fill="#4d4d4d">Lichida</text><text transform="translate(341.97,646.5) rotate(-60)" text-anchor="middle" font-size="11.5" fill="#4d4d4d">Odontopleurida</text><text transform="translate(393.73,646.5) rotate(-60)" text-anchor="middle" font-size="11.5" fill="#4d4d4d">Olenida</text><text transform="translate(445.49,646.5) rotate(-60)" text-anchor="middle" font-size="11.5" fill="#4d4d4d">Phacopida</text><text transform="translate(497.26,646.5) rotate(-60)" text-anchor="middle" font-size="11.5" fill="#4d4d4d">Proetida</text><text transform="translate(549.02,646.5) rotate(-60)" text-anchor="middle" font-size="11.5" fill="#4d4d4d">Redlichiida</text><text transform="translate(600.78,646.5) rotate(-60)" text-anchor="middle" font-size="11.5" fill="#4d4d4d">Trinucleida</text><text transform="translate(652.54,646.5) rotate(-60)" text-anchor="middle" font-size="11.5" fill="#4d4d4d">Uncertain</text><text x="364" y="694.5" text-anchor="middle" font-size="16" fill="#000">Order</text><text transform="translate(16,150.4) rotate(-90)" text-anchor="middle" font-size="16" fill="#000">Sum of Variances</text><text transform="translate(22.5,454.3) rotate(-90)" text-anchor="middle" font-size="16" fill="#000">Sum of Ranges</text><text x="3.8" y="17" font-size="17" font-weight="bold" fill="#111" stroke="#111" stroke-width="0.35">A</text><text x="4.4" y="323.8" font-size="17" font-weight="bold" fill="#111" stroke="#111" stroke-width="0.35">B</text></svg></body></html>
